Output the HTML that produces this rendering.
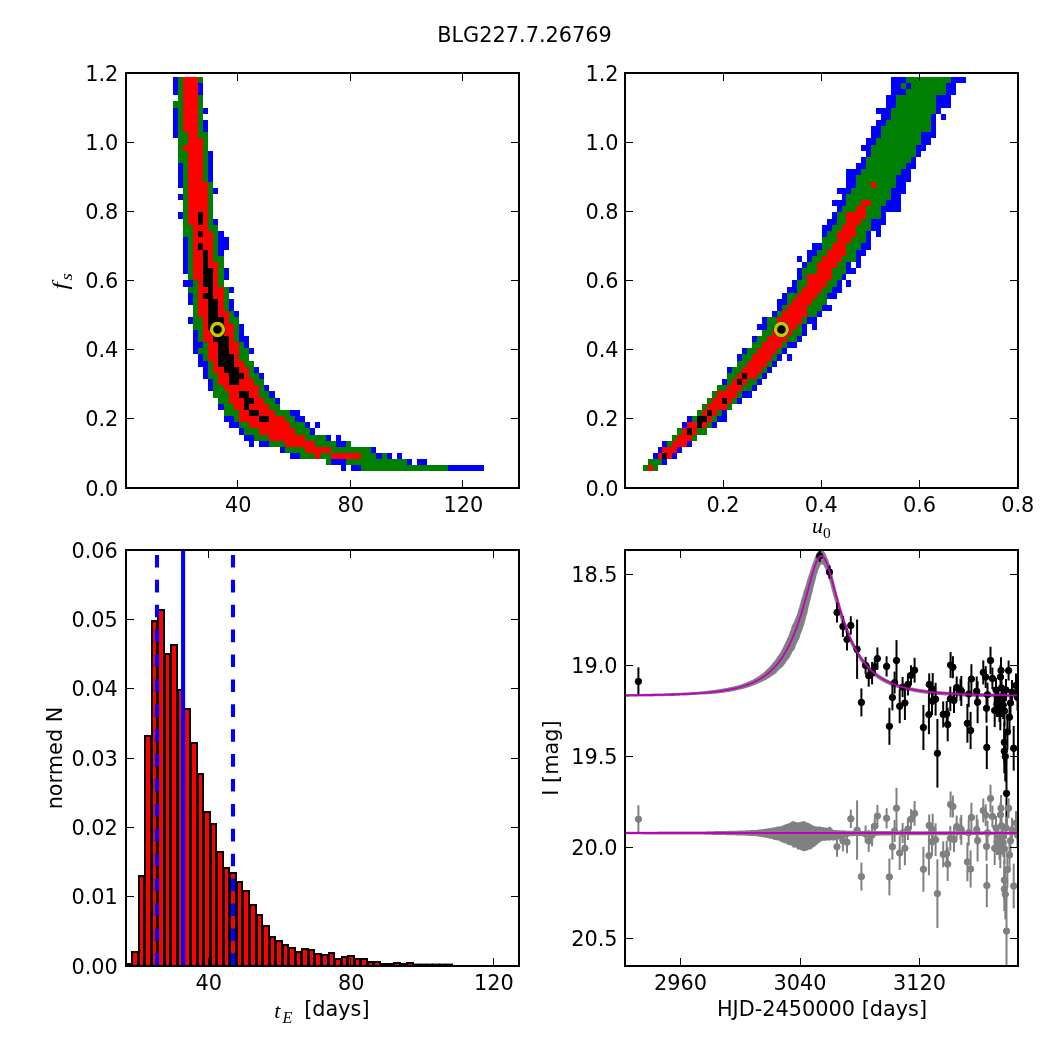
<!DOCTYPE html><html><head><meta charset="utf-8"><title>BLG227.7.26769</title><style>html,body{margin:0;padding:0;background:#fff}svg{display:block}</style></head><body><svg width="1050" height="1050" viewBox="0 0 1050 1050" font-family='"DejaVu Sans","Liberation Sans",sans-serif' font-size="20.83" fill="#000">
<rect width="1050" height="1050" fill="#fff"/>
<text x="524.5" y="41.9" text-anchor="middle">BLG227.7.26769</text>
<g shape-rendering="crispEdges">
<rect x="173" y="77" width="5" height="6" fill="#0000ff"/>
<rect x="178" y="77" width="5" height="6" fill="#008000"/>
<rect x="183" y="77" width="15" height="6" fill="#ff0000"/>
<rect x="198" y="77" width="5" height="6" fill="#008000"/>
<rect x="173" y="83" width="5" height="6" fill="#0000ff"/>
<rect x="178" y="83" width="5" height="6" fill="#008000"/>
<rect x="183" y="83" width="15" height="6" fill="#ff0000"/>
<rect x="198" y="83" width="5" height="6" fill="#0000ff"/>
<rect x="173" y="89" width="5" height="6" fill="#0000ff"/>
<rect x="178" y="89" width="5" height="6" fill="#008000"/>
<rect x="183" y="89" width="15" height="6" fill="#ff0000"/>
<rect x="198" y="89" width="5" height="6" fill="#0000ff"/>
<rect x="178" y="95" width="5" height="6" fill="#008000"/>
<rect x="183" y="95" width="15" height="6" fill="#ff0000"/>
<rect x="198" y="95" width="5" height="6" fill="#008000"/>
<rect x="173" y="101" width="10" height="7" fill="#008000"/>
<rect x="183" y="101" width="15" height="7" fill="#ff0000"/>
<rect x="198" y="101" width="5" height="7" fill="#008000"/>
<rect x="173" y="108" width="5" height="6" fill="#0000ff"/>
<rect x="178" y="108" width="5" height="6" fill="#008000"/>
<rect x="183" y="108" width="15" height="6" fill="#ff0000"/>
<rect x="198" y="108" width="5" height="6" fill="#008000"/>
<rect x="203" y="108" width="5" height="6" fill="#0000ff"/>
<rect x="173" y="114" width="5" height="6" fill="#0000ff"/>
<rect x="178" y="114" width="5" height="6" fill="#008000"/>
<rect x="183" y="114" width="15" height="6" fill="#ff0000"/>
<rect x="198" y="114" width="5" height="6" fill="#008000"/>
<rect x="173" y="120" width="5" height="6" fill="#0000ff"/>
<rect x="178" y="120" width="5" height="6" fill="#008000"/>
<rect x="183" y="120" width="15" height="6" fill="#ff0000"/>
<rect x="198" y="120" width="5" height="6" fill="#008000"/>
<rect x="203" y="120" width="5" height="6" fill="#0000ff"/>
<rect x="173" y="126" width="5" height="6" fill="#0000ff"/>
<rect x="178" y="126" width="5" height="6" fill="#008000"/>
<rect x="183" y="126" width="15" height="6" fill="#ff0000"/>
<rect x="198" y="126" width="5" height="6" fill="#008000"/>
<rect x="203" y="126" width="5" height="6" fill="#0000ff"/>
<rect x="173" y="132" width="5" height="6" fill="#0000ff"/>
<rect x="178" y="132" width="10" height="6" fill="#008000"/>
<rect x="188" y="132" width="10" height="6" fill="#ff0000"/>
<rect x="198" y="132" width="10" height="6" fill="#008000"/>
<rect x="178" y="138" width="10" height="7" fill="#008000"/>
<rect x="188" y="138" width="15" height="7" fill="#ff0000"/>
<rect x="203" y="138" width="5" height="7" fill="#008000"/>
<rect x="178" y="145" width="5" height="6" fill="#008000"/>
<rect x="183" y="145" width="20" height="6" fill="#ff0000"/>
<rect x="203" y="145" width="5" height="6" fill="#008000"/>
<rect x="178" y="151" width="10" height="6" fill="#008000"/>
<rect x="188" y="151" width="15" height="6" fill="#ff0000"/>
<rect x="203" y="151" width="5" height="6" fill="#008000"/>
<rect x="208" y="151" width="5" height="6" fill="#0000ff"/>
<rect x="178" y="157" width="10" height="6" fill="#008000"/>
<rect x="188" y="157" width="15" height="6" fill="#ff0000"/>
<rect x="203" y="157" width="5" height="6" fill="#008000"/>
<rect x="208" y="157" width="5" height="6" fill="#0000ff"/>
<rect x="178" y="163" width="5" height="6" fill="#0000ff"/>
<rect x="183" y="163" width="5" height="6" fill="#008000"/>
<rect x="188" y="163" width="15" height="6" fill="#ff0000"/>
<rect x="203" y="163" width="5" height="6" fill="#008000"/>
<rect x="208" y="163" width="5" height="6" fill="#0000ff"/>
<rect x="178" y="169" width="5" height="6" fill="#0000ff"/>
<rect x="183" y="169" width="5" height="6" fill="#008000"/>
<rect x="188" y="169" width="15" height="6" fill="#ff0000"/>
<rect x="203" y="169" width="5" height="6" fill="#008000"/>
<rect x="208" y="169" width="5" height="6" fill="#0000ff"/>
<rect x="178" y="175" width="5" height="7" fill="#0000ff"/>
<rect x="183" y="175" width="5" height="7" fill="#008000"/>
<rect x="188" y="175" width="15" height="7" fill="#ff0000"/>
<rect x="203" y="175" width="5" height="7" fill="#008000"/>
<rect x="208" y="175" width="5" height="7" fill="#0000ff"/>
<rect x="178" y="182" width="5" height="6" fill="#0000ff"/>
<rect x="183" y="182" width="5" height="6" fill="#008000"/>
<rect x="188" y="182" width="20" height="6" fill="#ff0000"/>
<rect x="208" y="182" width="5" height="6" fill="#008000"/>
<rect x="183" y="188" width="5" height="6" fill="#008000"/>
<rect x="188" y="188" width="20" height="6" fill="#ff0000"/>
<rect x="208" y="188" width="5" height="6" fill="#008000"/>
<rect x="213" y="188" width="5" height="6" fill="#0000ff"/>
<rect x="178" y="194" width="5" height="6" fill="#0000ff"/>
<rect x="183" y="194" width="5" height="6" fill="#008000"/>
<rect x="188" y="194" width="20" height="6" fill="#ff0000"/>
<rect x="208" y="194" width="5" height="6" fill="#008000"/>
<rect x="183" y="200" width="5" height="6" fill="#008000"/>
<rect x="188" y="200" width="20" height="6" fill="#ff0000"/>
<rect x="208" y="200" width="5" height="6" fill="#008000"/>
<rect x="183" y="206" width="5" height="6" fill="#008000"/>
<rect x="188" y="206" width="20" height="6" fill="#ff0000"/>
<rect x="208" y="206" width="5" height="6" fill="#008000"/>
<rect x="178" y="212" width="5" height="7" fill="#0000ff"/>
<rect x="183" y="212" width="5" height="7" fill="#008000"/>
<rect x="188" y="212" width="10" height="7" fill="#ff0000"/>
<rect x="198" y="212" width="5" height="7" fill="#000000"/>
<rect x="203" y="212" width="5" height="7" fill="#ff0000"/>
<rect x="208" y="212" width="5" height="7" fill="#008000"/>
<rect x="183" y="219" width="5" height="6" fill="#008000"/>
<rect x="188" y="219" width="10" height="6" fill="#ff0000"/>
<rect x="198" y="219" width="5" height="6" fill="#000000"/>
<rect x="203" y="219" width="5" height="6" fill="#ff0000"/>
<rect x="208" y="219" width="5" height="6" fill="#008000"/>
<rect x="213" y="219" width="5" height="6" fill="#0000ff"/>
<rect x="183" y="225" width="10" height="6" fill="#008000"/>
<rect x="193" y="225" width="15" height="6" fill="#ff0000"/>
<rect x="208" y="225" width="10" height="6" fill="#008000"/>
<rect x="183" y="231" width="10" height="6" fill="#008000"/>
<rect x="193" y="231" width="5" height="6" fill="#ff0000"/>
<rect x="198" y="231" width="5" height="6" fill="#000000"/>
<rect x="203" y="231" width="10" height="6" fill="#ff0000"/>
<rect x="213" y="231" width="5" height="6" fill="#008000"/>
<rect x="218" y="231" width="6" height="6" fill="#0000ff"/>
<rect x="183" y="237" width="5" height="6" fill="#0000ff"/>
<rect x="188" y="237" width="5" height="6" fill="#008000"/>
<rect x="193" y="237" width="20" height="6" fill="#ff0000"/>
<rect x="213" y="237" width="5" height="6" fill="#008000"/>
<rect x="218" y="237" width="11" height="6" fill="#0000ff"/>
<rect x="183" y="243" width="5" height="7" fill="#0000ff"/>
<rect x="188" y="243" width="5" height="7" fill="#008000"/>
<rect x="193" y="243" width="5" height="7" fill="#ff0000"/>
<rect x="198" y="243" width="5" height="7" fill="#000000"/>
<rect x="203" y="243" width="10" height="7" fill="#ff0000"/>
<rect x="213" y="243" width="5" height="7" fill="#008000"/>
<rect x="218" y="243" width="11" height="7" fill="#0000ff"/>
<rect x="183" y="250" width="5" height="6" fill="#0000ff"/>
<rect x="188" y="250" width="5" height="6" fill="#008000"/>
<rect x="193" y="250" width="10" height="6" fill="#ff0000"/>
<rect x="203" y="250" width="5" height="6" fill="#000000"/>
<rect x="208" y="250" width="5" height="6" fill="#ff0000"/>
<rect x="213" y="250" width="5" height="6" fill="#008000"/>
<rect x="218" y="250" width="6" height="6" fill="#0000ff"/>
<rect x="183" y="256" width="5" height="6" fill="#0000ff"/>
<rect x="188" y="256" width="5" height="6" fill="#008000"/>
<rect x="193" y="256" width="10" height="6" fill="#ff0000"/>
<rect x="203" y="256" width="5" height="6" fill="#000000"/>
<rect x="208" y="256" width="5" height="6" fill="#ff0000"/>
<rect x="213" y="256" width="11" height="6" fill="#008000"/>
<rect x="183" y="262" width="5" height="6" fill="#0000ff"/>
<rect x="188" y="262" width="5" height="6" fill="#008000"/>
<rect x="193" y="262" width="10" height="6" fill="#ff0000"/>
<rect x="203" y="262" width="5" height="6" fill="#000000"/>
<rect x="208" y="262" width="10" height="6" fill="#ff0000"/>
<rect x="218" y="262" width="6" height="6" fill="#008000"/>
<rect x="183" y="268" width="5" height="6" fill="#0000ff"/>
<rect x="188" y="268" width="5" height="6" fill="#008000"/>
<rect x="193" y="268" width="10" height="6" fill="#ff0000"/>
<rect x="203" y="268" width="10" height="6" fill="#000000"/>
<rect x="213" y="268" width="5" height="6" fill="#ff0000"/>
<rect x="218" y="268" width="6" height="6" fill="#008000"/>
<rect x="224" y="268" width="5" height="6" fill="#0000ff"/>
<rect x="188" y="274" width="5" height="6" fill="#008000"/>
<rect x="193" y="274" width="10" height="6" fill="#ff0000"/>
<rect x="203" y="274" width="10" height="6" fill="#000000"/>
<rect x="213" y="274" width="5" height="6" fill="#ff0000"/>
<rect x="218" y="274" width="6" height="6" fill="#008000"/>
<rect x="224" y="274" width="5" height="6" fill="#0000ff"/>
<rect x="183" y="280" width="10" height="7" fill="#0000ff"/>
<rect x="193" y="280" width="5" height="7" fill="#008000"/>
<rect x="198" y="280" width="5" height="7" fill="#ff0000"/>
<rect x="203" y="280" width="10" height="7" fill="#000000"/>
<rect x="213" y="280" width="5" height="7" fill="#ff0000"/>
<rect x="218" y="280" width="6" height="7" fill="#008000"/>
<rect x="188" y="287" width="10" height="6" fill="#008000"/>
<rect x="198" y="287" width="10" height="6" fill="#ff0000"/>
<rect x="208" y="287" width="5" height="6" fill="#000000"/>
<rect x="213" y="287" width="11" height="6" fill="#ff0000"/>
<rect x="224" y="287" width="5" height="6" fill="#008000"/>
<rect x="229" y="287" width="5" height="6" fill="#0000ff"/>
<rect x="188" y="293" width="5" height="6" fill="#0000ff"/>
<rect x="193" y="293" width="5" height="6" fill="#008000"/>
<rect x="198" y="293" width="5" height="6" fill="#ff0000"/>
<rect x="203" y="293" width="10" height="6" fill="#000000"/>
<rect x="213" y="293" width="11" height="6" fill="#ff0000"/>
<rect x="224" y="293" width="5" height="6" fill="#008000"/>
<rect x="188" y="299" width="5" height="6" fill="#0000ff"/>
<rect x="193" y="299" width="5" height="6" fill="#008000"/>
<rect x="198" y="299" width="10" height="6" fill="#ff0000"/>
<rect x="208" y="299" width="10" height="6" fill="#000000"/>
<rect x="218" y="299" width="6" height="6" fill="#ff0000"/>
<rect x="224" y="299" width="5" height="6" fill="#008000"/>
<rect x="229" y="299" width="5" height="6" fill="#0000ff"/>
<rect x="193" y="305" width="5" height="6" fill="#008000"/>
<rect x="198" y="305" width="10" height="6" fill="#ff0000"/>
<rect x="208" y="305" width="10" height="6" fill="#000000"/>
<rect x="218" y="305" width="6" height="6" fill="#ff0000"/>
<rect x="224" y="305" width="5" height="6" fill="#008000"/>
<rect x="229" y="305" width="5" height="6" fill="#0000ff"/>
<rect x="193" y="311" width="5" height="6" fill="#008000"/>
<rect x="198" y="311" width="10" height="6" fill="#ff0000"/>
<rect x="208" y="311" width="10" height="6" fill="#000000"/>
<rect x="218" y="311" width="11" height="6" fill="#ff0000"/>
<rect x="229" y="311" width="5" height="6" fill="#008000"/>
<rect x="234" y="311" width="5" height="6" fill="#0000ff"/>
<rect x="188" y="317" width="5" height="7" fill="#0000ff"/>
<rect x="193" y="317" width="10" height="7" fill="#008000"/>
<rect x="203" y="317" width="5" height="7" fill="#ff0000"/>
<rect x="208" y="317" width="16" height="7" fill="#000000"/>
<rect x="224" y="317" width="5" height="7" fill="#ff0000"/>
<rect x="229" y="317" width="10" height="7" fill="#008000"/>
<rect x="193" y="324" width="10" height="6" fill="#008000"/>
<rect x="203" y="324" width="5" height="6" fill="#ff0000"/>
<rect x="208" y="324" width="16" height="6" fill="#000000"/>
<rect x="224" y="324" width="10" height="6" fill="#ff0000"/>
<rect x="234" y="324" width="5" height="6" fill="#008000"/>
<rect x="239" y="324" width="5" height="6" fill="#0000ff"/>
<rect x="193" y="330" width="5" height="6" fill="#0000ff"/>
<rect x="198" y="330" width="5" height="6" fill="#008000"/>
<rect x="203" y="330" width="10" height="6" fill="#ff0000"/>
<rect x="213" y="330" width="11" height="6" fill="#000000"/>
<rect x="224" y="330" width="10" height="6" fill="#ff0000"/>
<rect x="234" y="330" width="5" height="6" fill="#008000"/>
<rect x="239" y="330" width="5" height="6" fill="#0000ff"/>
<rect x="193" y="336" width="5" height="6" fill="#0000ff"/>
<rect x="198" y="336" width="5" height="6" fill="#008000"/>
<rect x="203" y="336" width="10" height="6" fill="#ff0000"/>
<rect x="213" y="336" width="16" height="6" fill="#000000"/>
<rect x="229" y="336" width="5" height="6" fill="#ff0000"/>
<rect x="234" y="336" width="5" height="6" fill="#008000"/>
<rect x="239" y="336" width="10" height="6" fill="#0000ff"/>
<rect x="193" y="342" width="10" height="6" fill="#0000ff"/>
<rect x="203" y="342" width="5" height="6" fill="#008000"/>
<rect x="208" y="342" width="10" height="6" fill="#ff0000"/>
<rect x="218" y="342" width="11" height="6" fill="#000000"/>
<rect x="229" y="342" width="10" height="6" fill="#ff0000"/>
<rect x="239" y="342" width="5" height="6" fill="#008000"/>
<rect x="244" y="342" width="5" height="6" fill="#0000ff"/>
<rect x="193" y="348" width="5" height="6" fill="#0000ff"/>
<rect x="198" y="348" width="10" height="6" fill="#008000"/>
<rect x="208" y="348" width="10" height="6" fill="#ff0000"/>
<rect x="218" y="348" width="11" height="6" fill="#000000"/>
<rect x="229" y="348" width="10" height="6" fill="#ff0000"/>
<rect x="239" y="348" width="10" height="6" fill="#008000"/>
<rect x="249" y="348" width="5" height="6" fill="#0000ff"/>
<rect x="198" y="354" width="5" height="7" fill="#0000ff"/>
<rect x="203" y="354" width="5" height="7" fill="#008000"/>
<rect x="208" y="354" width="10" height="7" fill="#ff0000"/>
<rect x="218" y="354" width="16" height="7" fill="#000000"/>
<rect x="234" y="354" width="5" height="7" fill="#ff0000"/>
<rect x="239" y="354" width="10" height="7" fill="#008000"/>
<rect x="198" y="361" width="10" height="6" fill="#0000ff"/>
<rect x="208" y="361" width="5" height="6" fill="#008000"/>
<rect x="213" y="361" width="5" height="6" fill="#ff0000"/>
<rect x="218" y="361" width="16" height="6" fill="#000000"/>
<rect x="234" y="361" width="10" height="6" fill="#ff0000"/>
<rect x="244" y="361" width="10" height="6" fill="#008000"/>
<rect x="203" y="367" width="5" height="6" fill="#0000ff"/>
<rect x="208" y="367" width="5" height="6" fill="#008000"/>
<rect x="213" y="367" width="11" height="6" fill="#ff0000"/>
<rect x="224" y="367" width="15" height="6" fill="#000000"/>
<rect x="239" y="367" width="10" height="6" fill="#ff0000"/>
<rect x="249" y="367" width="5" height="6" fill="#008000"/>
<rect x="254" y="367" width="5" height="6" fill="#0000ff"/>
<rect x="203" y="373" width="5" height="6" fill="#0000ff"/>
<rect x="208" y="373" width="10" height="6" fill="#008000"/>
<rect x="218" y="373" width="11" height="6" fill="#ff0000"/>
<rect x="229" y="373" width="15" height="6" fill="#000000"/>
<rect x="244" y="373" width="5" height="6" fill="#ff0000"/>
<rect x="249" y="373" width="10" height="6" fill="#008000"/>
<rect x="259" y="373" width="5" height="6" fill="#0000ff"/>
<rect x="208" y="379" width="5" height="6" fill="#0000ff"/>
<rect x="213" y="379" width="5" height="6" fill="#008000"/>
<rect x="218" y="379" width="11" height="6" fill="#ff0000"/>
<rect x="229" y="379" width="10" height="6" fill="#000000"/>
<rect x="239" y="379" width="15" height="6" fill="#ff0000"/>
<rect x="254" y="379" width="10" height="6" fill="#008000"/>
<rect x="208" y="385" width="5" height="6" fill="#0000ff"/>
<rect x="213" y="385" width="11" height="6" fill="#008000"/>
<rect x="224" y="385" width="35" height="6" fill="#ff0000"/>
<rect x="259" y="385" width="5" height="6" fill="#008000"/>
<rect x="264" y="385" width="5" height="6" fill="#0000ff"/>
<rect x="213" y="391" width="16" height="7" fill="#008000"/>
<rect x="229" y="391" width="10" height="7" fill="#ff0000"/>
<rect x="239" y="391" width="10" height="7" fill="#000000"/>
<rect x="249" y="391" width="10" height="7" fill="#ff0000"/>
<rect x="259" y="391" width="10" height="7" fill="#008000"/>
<rect x="269" y="391" width="6" height="7" fill="#0000ff"/>
<rect x="218" y="398" width="11" height="6" fill="#008000"/>
<rect x="229" y="398" width="15" height="6" fill="#ff0000"/>
<rect x="244" y="398" width="10" height="6" fill="#000000"/>
<rect x="254" y="398" width="10" height="6" fill="#ff0000"/>
<rect x="264" y="398" width="11" height="6" fill="#008000"/>
<rect x="275" y="398" width="5" height="6" fill="#0000ff"/>
<rect x="218" y="404" width="6" height="6" fill="#0000ff"/>
<rect x="224" y="404" width="10" height="6" fill="#008000"/>
<rect x="234" y="404" width="10" height="6" fill="#ff0000"/>
<rect x="244" y="404" width="5" height="6" fill="#000000"/>
<rect x="249" y="404" width="20" height="6" fill="#ff0000"/>
<rect x="269" y="404" width="11" height="6" fill="#008000"/>
<rect x="224" y="410" width="15" height="6" fill="#008000"/>
<rect x="239" y="410" width="10" height="6" fill="#ff0000"/>
<rect x="249" y="410" width="10" height="6" fill="#000000"/>
<rect x="259" y="410" width="16" height="6" fill="#ff0000"/>
<rect x="275" y="410" width="15" height="6" fill="#008000"/>
<rect x="290" y="410" width="10" height="6" fill="#0000ff"/>
<rect x="224" y="416" width="10" height="6" fill="#0000ff"/>
<rect x="234" y="416" width="5" height="6" fill="#008000"/>
<rect x="239" y="416" width="20" height="6" fill="#ff0000"/>
<rect x="259" y="416" width="10" height="6" fill="#000000"/>
<rect x="269" y="416" width="16" height="6" fill="#ff0000"/>
<rect x="285" y="416" width="10" height="6" fill="#008000"/>
<rect x="295" y="416" width="10" height="6" fill="#0000ff"/>
<rect x="229" y="422" width="10" height="6" fill="#0000ff"/>
<rect x="239" y="422" width="10" height="6" fill="#008000"/>
<rect x="249" y="422" width="41" height="6" fill="#ff0000"/>
<rect x="290" y="422" width="15" height="6" fill="#008000"/>
<rect x="305" y="422" width="5" height="6" fill="#0000ff"/>
<rect x="315" y="422" width="5" height="6" fill="#0000ff"/>
<rect x="239" y="428" width="5" height="7" fill="#0000ff"/>
<rect x="244" y="428" width="15" height="7" fill="#008000"/>
<rect x="259" y="428" width="36" height="7" fill="#ff0000"/>
<rect x="295" y="428" width="15" height="7" fill="#008000"/>
<rect x="310" y="428" width="5" height="7" fill="#0000ff"/>
<rect x="244" y="435" width="10" height="6" fill="#0000ff"/>
<rect x="254" y="435" width="15" height="6" fill="#008000"/>
<rect x="269" y="435" width="36" height="6" fill="#ff0000"/>
<rect x="305" y="435" width="21" height="6" fill="#008000"/>
<rect x="326" y="435" width="5" height="6" fill="#0000ff"/>
<rect x="336" y="435" width="5" height="6" fill="#0000ff"/>
<rect x="249" y="441" width="5" height="6" fill="#0000ff"/>
<rect x="259" y="441" width="10" height="6" fill="#0000ff"/>
<rect x="269" y="441" width="16" height="6" fill="#008000"/>
<rect x="285" y="441" width="30" height="6" fill="#ff0000"/>
<rect x="315" y="441" width="21" height="6" fill="#008000"/>
<rect x="336" y="441" width="10" height="6" fill="#0000ff"/>
<rect x="346" y="441" width="5" height="6" fill="#008000"/>
<rect x="280" y="447" width="5" height="6" fill="#0000ff"/>
<rect x="285" y="447" width="20" height="6" fill="#008000"/>
<rect x="305" y="447" width="26" height="6" fill="#ff0000"/>
<rect x="331" y="447" width="40" height="6" fill="#008000"/>
<rect x="371" y="447" width="5" height="6" fill="#0000ff"/>
<rect x="290" y="453" width="10" height="6" fill="#0000ff"/>
<rect x="300" y="453" width="15" height="6" fill="#008000"/>
<rect x="315" y="453" width="5" height="6" fill="#ff0000"/>
<rect x="320" y="453" width="11" height="6" fill="#008000"/>
<rect x="331" y="453" width="30" height="6" fill="#ff0000"/>
<rect x="361" y="453" width="15" height="6" fill="#008000"/>
<rect x="376" y="453" width="6" height="6" fill="#0000ff"/>
<rect x="382" y="453" width="5" height="6" fill="#008000"/>
<rect x="387" y="453" width="5" height="6" fill="#0000ff"/>
<rect x="397" y="453" width="5" height="6" fill="#0000ff"/>
<rect x="326" y="459" width="5" height="6" fill="#008000"/>
<rect x="331" y="459" width="15" height="6" fill="#0000ff"/>
<rect x="346" y="459" width="61" height="6" fill="#008000"/>
<rect x="407" y="459" width="5" height="6" fill="#0000ff"/>
<rect x="417" y="459" width="10" height="6" fill="#0000ff"/>
<rect x="341" y="465" width="5" height="6" fill="#0000ff"/>
<rect x="351" y="465" width="10" height="6" fill="#0000ff"/>
<rect x="361" y="465" width="87" height="6" fill="#008000"/>
<rect x="448" y="465" width="36" height="6" fill="#0000ff"/>
</g>
<circle cx="217.5" cy="329.5" r="8.1" fill="#000" opacity="0.85"/><circle cx="217.5" cy="329.5" r="6" fill="#000" stroke="#c6c600" stroke-width="3.3"/>
<path d="M237.5 488v-8.3M237.5 73v8.3M350.0 488v-8.3M350.0 73v8.3M462.5 488v-8.3M462.5 73v8.3M126 488.0h8.3M519 488.0h-8.3M126 418.8h8.3M519 418.8h-8.3M126 349.7h8.3M519 349.7h-8.3M126 280.5h8.3M519 280.5h-8.3M126 211.3h8.3M519 211.3h-8.3M126 142.2h8.3M519 142.2h-8.3M126 73.0h8.3M519 73.0h-8.3" stroke="#000" stroke-width="1" fill="none" shape-rendering="crispEdges"/>
<rect x="126" y="73" width="393" height="415" fill="none" stroke="#000" stroke-width="2"/>
<text x="238.3" y="512.0" text-anchor="middle">40</text>
<text x="350.8" y="512.0" text-anchor="middle">80</text>
<text x="463.3" y="512.0" text-anchor="middle">120</text>
<text x="118.3" y="495.6" text-anchor="end">0.0</text>
<text x="118.3" y="426.4" text-anchor="end">0.2</text>
<text x="118.3" y="357.3" text-anchor="end">0.4</text>
<text x="118.3" y="288.1" text-anchor="end">0.6</text>
<text x="118.3" y="218.9" text-anchor="end">0.8</text>
<text x="118.3" y="149.8" text-anchor="end">1.0</text>
<text x="118.3" y="80.6" text-anchor="end">1.2</text>
<text transform="translate(67.3,289.4) rotate(-90) scale(1.18,1)" font-family='"Liberation Serif","DejaVu Serif",serif' font-style="italic" font-size="21.5">f<tspan font-size="16" dy="4.5" dx="1.6">s</tspan></text>
<g shape-rendering="crispEdges">
<rect x="891" y="77" width="15" height="6" fill="#0000ff"/>
<rect x="906" y="77" width="45" height="6" fill="#008000"/>
<rect x="951" y="77" width="15" height="6" fill="#0000ff"/>
<rect x="891" y="83" width="10" height="6" fill="#0000ff"/>
<rect x="901" y="83" width="5" height="6" fill="#008000"/>
<rect x="906" y="83" width="5" height="6" fill="#0000ff"/>
<rect x="911" y="83" width="35" height="6" fill="#008000"/>
<rect x="946" y="83" width="10" height="6" fill="#0000ff"/>
<rect x="891" y="89" width="15" height="6" fill="#0000ff"/>
<rect x="906" y="89" width="40" height="6" fill="#008000"/>
<rect x="946" y="89" width="10" height="6" fill="#0000ff"/>
<rect x="886" y="95" width="10" height="6" fill="#0000ff"/>
<rect x="896" y="95" width="40" height="6" fill="#008000"/>
<rect x="936" y="95" width="15" height="6" fill="#0000ff"/>
<rect x="886" y="101" width="10" height="7" fill="#0000ff"/>
<rect x="896" y="101" width="40" height="7" fill="#008000"/>
<rect x="936" y="101" width="15" height="7" fill="#0000ff"/>
<rect x="876" y="108" width="15" height="6" fill="#0000ff"/>
<rect x="891" y="108" width="45" height="6" fill="#008000"/>
<rect x="936" y="108" width="5" height="6" fill="#0000ff"/>
<rect x="881" y="114" width="10" height="6" fill="#0000ff"/>
<rect x="891" y="114" width="40" height="6" fill="#008000"/>
<rect x="931" y="114" width="5" height="6" fill="#0000ff"/>
<rect x="941" y="114" width="5" height="6" fill="#0000ff"/>
<rect x="876" y="120" width="10" height="6" fill="#0000ff"/>
<rect x="886" y="120" width="45" height="6" fill="#008000"/>
<rect x="931" y="120" width="5" height="6" fill="#0000ff"/>
<rect x="871" y="126" width="10" height="6" fill="#0000ff"/>
<rect x="881" y="126" width="50" height="6" fill="#008000"/>
<rect x="931" y="126" width="5" height="6" fill="#0000ff"/>
<rect x="871" y="132" width="10" height="6" fill="#0000ff"/>
<rect x="881" y="132" width="40" height="6" fill="#008000"/>
<rect x="921" y="132" width="15" height="6" fill="#0000ff"/>
<rect x="866" y="138" width="10" height="7" fill="#0000ff"/>
<rect x="876" y="138" width="45" height="7" fill="#008000"/>
<rect x="921" y="138" width="10" height="7" fill="#0000ff"/>
<rect x="861" y="145" width="10" height="6" fill="#0000ff"/>
<rect x="871" y="145" width="45" height="6" fill="#008000"/>
<rect x="916" y="145" width="10" height="6" fill="#0000ff"/>
<rect x="866" y="151" width="5" height="6" fill="#0000ff"/>
<rect x="871" y="151" width="45" height="6" fill="#008000"/>
<rect x="916" y="151" width="5" height="6" fill="#0000ff"/>
<rect x="861" y="157" width="5" height="6" fill="#0000ff"/>
<rect x="866" y="157" width="45" height="6" fill="#008000"/>
<rect x="911" y="157" width="5" height="6" fill="#0000ff"/>
<rect x="856" y="163" width="10" height="6" fill="#0000ff"/>
<rect x="866" y="163" width="40" height="6" fill="#008000"/>
<rect x="906" y="163" width="10" height="6" fill="#0000ff"/>
<rect x="846" y="169" width="15" height="6" fill="#0000ff"/>
<rect x="861" y="169" width="40" height="6" fill="#008000"/>
<rect x="901" y="169" width="10" height="6" fill="#0000ff"/>
<rect x="846" y="175" width="10" height="7" fill="#0000ff"/>
<rect x="856" y="175" width="40" height="7" fill="#008000"/>
<rect x="896" y="175" width="15" height="7" fill="#0000ff"/>
<rect x="846" y="182" width="10" height="6" fill="#0000ff"/>
<rect x="856" y="182" width="15" height="6" fill="#008000"/>
<rect x="871" y="182" width="5" height="6" fill="#ff0000"/>
<rect x="876" y="182" width="20" height="6" fill="#008000"/>
<rect x="896" y="182" width="10" height="6" fill="#0000ff"/>
<rect x="837" y="188" width="14" height="6" fill="#0000ff"/>
<rect x="851" y="188" width="40" height="6" fill="#008000"/>
<rect x="891" y="188" width="15" height="6" fill="#0000ff"/>
<rect x="842" y="194" width="4" height="6" fill="#0000ff"/>
<rect x="846" y="194" width="45" height="6" fill="#008000"/>
<rect x="891" y="194" width="10" height="6" fill="#0000ff"/>
<rect x="832" y="200" width="14" height="6" fill="#0000ff"/>
<rect x="846" y="200" width="15" height="6" fill="#008000"/>
<rect x="861" y="200" width="10" height="6" fill="#ff0000"/>
<rect x="871" y="200" width="15" height="6" fill="#008000"/>
<rect x="886" y="200" width="15" height="6" fill="#0000ff"/>
<rect x="837" y="206" width="5" height="6" fill="#0000ff"/>
<rect x="842" y="206" width="14" height="6" fill="#008000"/>
<rect x="856" y="206" width="10" height="6" fill="#ff0000"/>
<rect x="866" y="206" width="15" height="6" fill="#008000"/>
<rect x="881" y="206" width="20" height="6" fill="#0000ff"/>
<rect x="832" y="212" width="5" height="7" fill="#0000ff"/>
<rect x="837" y="212" width="9" height="7" fill="#008000"/>
<rect x="846" y="212" width="20" height="7" fill="#ff0000"/>
<rect x="866" y="212" width="15" height="7" fill="#008000"/>
<rect x="881" y="212" width="5" height="7" fill="#0000ff"/>
<rect x="827" y="219" width="10" height="6" fill="#0000ff"/>
<rect x="837" y="219" width="9" height="6" fill="#008000"/>
<rect x="846" y="219" width="15" height="6" fill="#ff0000"/>
<rect x="861" y="219" width="10" height="6" fill="#008000"/>
<rect x="871" y="219" width="15" height="6" fill="#0000ff"/>
<rect x="822" y="225" width="10" height="6" fill="#0000ff"/>
<rect x="832" y="225" width="10" height="6" fill="#008000"/>
<rect x="842" y="225" width="14" height="6" fill="#ff0000"/>
<rect x="856" y="225" width="15" height="6" fill="#008000"/>
<rect x="871" y="225" width="10" height="6" fill="#0000ff"/>
<rect x="822" y="231" width="5" height="6" fill="#0000ff"/>
<rect x="827" y="231" width="10" height="6" fill="#008000"/>
<rect x="837" y="231" width="19" height="6" fill="#ff0000"/>
<rect x="856" y="231" width="10" height="6" fill="#008000"/>
<rect x="866" y="231" width="5" height="6" fill="#0000ff"/>
<rect x="876" y="231" width="5" height="6" fill="#0000ff"/>
<rect x="822" y="237" width="15" height="6" fill="#008000"/>
<rect x="837" y="237" width="14" height="6" fill="#ff0000"/>
<rect x="851" y="237" width="15" height="6" fill="#008000"/>
<rect x="866" y="237" width="5" height="6" fill="#0000ff"/>
<rect x="812" y="243" width="10" height="7" fill="#0000ff"/>
<rect x="822" y="243" width="10" height="7" fill="#008000"/>
<rect x="832" y="243" width="14" height="7" fill="#ff0000"/>
<rect x="846" y="243" width="15" height="7" fill="#008000"/>
<rect x="861" y="243" width="10" height="7" fill="#0000ff"/>
<rect x="807" y="250" width="10" height="6" fill="#0000ff"/>
<rect x="817" y="250" width="10" height="6" fill="#008000"/>
<rect x="827" y="250" width="19" height="6" fill="#ff0000"/>
<rect x="846" y="250" width="10" height="6" fill="#008000"/>
<rect x="856" y="250" width="10" height="6" fill="#0000ff"/>
<rect x="797" y="256" width="5" height="6" fill="#0000ff"/>
<rect x="807" y="256" width="5" height="6" fill="#0000ff"/>
<rect x="812" y="256" width="10" height="6" fill="#008000"/>
<rect x="822" y="256" width="20" height="6" fill="#ff0000"/>
<rect x="842" y="256" width="14" height="6" fill="#008000"/>
<rect x="856" y="256" width="5" height="6" fill="#0000ff"/>
<rect x="802" y="262" width="5" height="6" fill="#0000ff"/>
<rect x="807" y="262" width="10" height="6" fill="#008000"/>
<rect x="817" y="262" width="20" height="6" fill="#ff0000"/>
<rect x="837" y="262" width="9" height="6" fill="#008000"/>
<rect x="846" y="262" width="5" height="6" fill="#0000ff"/>
<rect x="856" y="262" width="5" height="6" fill="#0000ff"/>
<rect x="797" y="268" width="5" height="6" fill="#0000ff"/>
<rect x="802" y="268" width="15" height="6" fill="#008000"/>
<rect x="817" y="268" width="15" height="6" fill="#ff0000"/>
<rect x="832" y="268" width="14" height="6" fill="#008000"/>
<rect x="846" y="268" width="10" height="6" fill="#0000ff"/>
<rect x="797" y="274" width="5" height="6" fill="#0000ff"/>
<rect x="802" y="274" width="5" height="6" fill="#008000"/>
<rect x="807" y="274" width="25" height="6" fill="#ff0000"/>
<rect x="832" y="274" width="10" height="6" fill="#008000"/>
<rect x="842" y="274" width="4" height="6" fill="#0000ff"/>
<rect x="792" y="280" width="5" height="7" fill="#0000ff"/>
<rect x="797" y="280" width="10" height="7" fill="#008000"/>
<rect x="807" y="280" width="20" height="7" fill="#ff0000"/>
<rect x="827" y="280" width="10" height="7" fill="#008000"/>
<rect x="837" y="280" width="5" height="7" fill="#0000ff"/>
<rect x="846" y="280" width="5" height="7" fill="#0000ff"/>
<rect x="787" y="287" width="10" height="6" fill="#0000ff"/>
<rect x="797" y="287" width="5" height="6" fill="#008000"/>
<rect x="802" y="287" width="20" height="6" fill="#ff0000"/>
<rect x="822" y="287" width="10" height="6" fill="#008000"/>
<rect x="832" y="287" width="10" height="6" fill="#0000ff"/>
<rect x="782" y="293" width="5" height="6" fill="#0000ff"/>
<rect x="787" y="293" width="10" height="6" fill="#008000"/>
<rect x="797" y="293" width="20" height="6" fill="#ff0000"/>
<rect x="817" y="293" width="10" height="6" fill="#008000"/>
<rect x="827" y="293" width="10" height="6" fill="#0000ff"/>
<rect x="777" y="299" width="10" height="6" fill="#0000ff"/>
<rect x="787" y="299" width="5" height="6" fill="#008000"/>
<rect x="792" y="299" width="20" height="6" fill="#ff0000"/>
<rect x="812" y="299" width="15" height="6" fill="#008000"/>
<rect x="777" y="305" width="5" height="6" fill="#0000ff"/>
<rect x="782" y="305" width="5" height="6" fill="#008000"/>
<rect x="787" y="305" width="20" height="6" fill="#ff0000"/>
<rect x="807" y="305" width="15" height="6" fill="#008000"/>
<rect x="822" y="305" width="10" height="6" fill="#0000ff"/>
<rect x="772" y="311" width="5" height="6" fill="#0000ff"/>
<rect x="777" y="311" width="5" height="6" fill="#008000"/>
<rect x="782" y="311" width="25" height="6" fill="#ff0000"/>
<rect x="807" y="311" width="10" height="6" fill="#008000"/>
<rect x="817" y="311" width="5" height="6" fill="#0000ff"/>
<rect x="762" y="317" width="5" height="7" fill="#0000ff"/>
<rect x="767" y="317" width="10" height="7" fill="#008000"/>
<rect x="777" y="317" width="25" height="7" fill="#ff0000"/>
<rect x="802" y="317" width="5" height="7" fill="#008000"/>
<rect x="807" y="317" width="10" height="7" fill="#0000ff"/>
<rect x="757" y="324" width="10" height="6" fill="#0000ff"/>
<rect x="767" y="324" width="10" height="6" fill="#008000"/>
<rect x="777" y="324" width="20" height="6" fill="#ff0000"/>
<rect x="797" y="324" width="5" height="6" fill="#008000"/>
<rect x="802" y="324" width="5" height="6" fill="#0000ff"/>
<rect x="812" y="324" width="5" height="6" fill="#0000ff"/>
<rect x="762" y="330" width="10" height="6" fill="#008000"/>
<rect x="772" y="330" width="20" height="6" fill="#ff0000"/>
<rect x="792" y="330" width="10" height="6" fill="#008000"/>
<rect x="802" y="330" width="5" height="6" fill="#0000ff"/>
<rect x="752" y="336" width="5" height="6" fill="#0000ff"/>
<rect x="757" y="336" width="10" height="6" fill="#008000"/>
<rect x="767" y="336" width="20" height="6" fill="#ff0000"/>
<rect x="787" y="336" width="10" height="6" fill="#008000"/>
<rect x="797" y="336" width="5" height="6" fill="#0000ff"/>
<rect x="752" y="342" width="10" height="6" fill="#008000"/>
<rect x="762" y="342" width="20" height="6" fill="#ff0000"/>
<rect x="782" y="342" width="5" height="6" fill="#008000"/>
<rect x="787" y="342" width="10" height="6" fill="#0000ff"/>
<rect x="742" y="348" width="5" height="6" fill="#0000ff"/>
<rect x="747" y="348" width="10" height="6" fill="#008000"/>
<rect x="757" y="348" width="20" height="6" fill="#ff0000"/>
<rect x="777" y="348" width="5" height="6" fill="#008000"/>
<rect x="782" y="348" width="5" height="6" fill="#0000ff"/>
<rect x="737" y="354" width="5" height="7" fill="#0000ff"/>
<rect x="742" y="354" width="10" height="7" fill="#008000"/>
<rect x="752" y="354" width="20" height="7" fill="#ff0000"/>
<rect x="772" y="354" width="5" height="7" fill="#008000"/>
<rect x="777" y="354" width="5" height="7" fill="#0000ff"/>
<rect x="787" y="354" width="5" height="7" fill="#0000ff"/>
<rect x="737" y="361" width="10" height="6" fill="#008000"/>
<rect x="747" y="361" width="20" height="6" fill="#ff0000"/>
<rect x="767" y="361" width="5" height="6" fill="#008000"/>
<rect x="772" y="361" width="5" height="6" fill="#0000ff"/>
<rect x="727" y="367" width="5" height="6" fill="#0000ff"/>
<rect x="732" y="367" width="10" height="6" fill="#008000"/>
<rect x="742" y="367" width="20" height="6" fill="#ff0000"/>
<rect x="762" y="367" width="5" height="6" fill="#008000"/>
<rect x="767" y="367" width="5" height="6" fill="#0000ff"/>
<rect x="727" y="373" width="10" height="6" fill="#008000"/>
<rect x="737" y="373" width="5" height="6" fill="#ff0000"/>
<rect x="742" y="373" width="5" height="6" fill="#000000"/>
<rect x="747" y="373" width="10" height="6" fill="#ff0000"/>
<rect x="757" y="373" width="5" height="6" fill="#008000"/>
<rect x="762" y="373" width="5" height="6" fill="#0000ff"/>
<rect x="722" y="379" width="5" height="6" fill="#0000ff"/>
<rect x="727" y="379" width="5" height="6" fill="#008000"/>
<rect x="732" y="379" width="5" height="6" fill="#ff0000"/>
<rect x="737" y="379" width="5" height="6" fill="#000000"/>
<rect x="742" y="379" width="5" height="6" fill="#ff0000"/>
<rect x="747" y="379" width="10" height="6" fill="#008000"/>
<rect x="757" y="379" width="5" height="6" fill="#0000ff"/>
<rect x="717" y="385" width="10" height="6" fill="#008000"/>
<rect x="727" y="385" width="15" height="6" fill="#ff0000"/>
<rect x="742" y="385" width="10" height="6" fill="#008000"/>
<rect x="752" y="385" width="5" height="6" fill="#0000ff"/>
<rect x="712" y="391" width="5" height="7" fill="#008000"/>
<rect x="717" y="391" width="20" height="7" fill="#ff0000"/>
<rect x="737" y="391" width="5" height="7" fill="#008000"/>
<rect x="742" y="391" width="10" height="7" fill="#0000ff"/>
<rect x="707" y="398" width="5" height="6" fill="#008000"/>
<rect x="712" y="398" width="10" height="6" fill="#ff0000"/>
<rect x="722" y="398" width="5" height="6" fill="#000000"/>
<rect x="727" y="398" width="5" height="6" fill="#ff0000"/>
<rect x="732" y="398" width="5" height="6" fill="#008000"/>
<rect x="737" y="398" width="5" height="6" fill="#0000ff"/>
<rect x="702" y="404" width="5" height="6" fill="#008000"/>
<rect x="707" y="404" width="20" height="6" fill="#ff0000"/>
<rect x="727" y="404" width="5" height="6" fill="#008000"/>
<rect x="697" y="410" width="5" height="6" fill="#008000"/>
<rect x="702" y="410" width="5" height="6" fill="#ff0000"/>
<rect x="707" y="410" width="5" height="6" fill="#000000"/>
<rect x="712" y="410" width="5" height="6" fill="#ff0000"/>
<rect x="717" y="410" width="5" height="6" fill="#008000"/>
<rect x="722" y="410" width="5" height="6" fill="#0000ff"/>
<rect x="687" y="416" width="5" height="6" fill="#0000ff"/>
<rect x="692" y="416" width="5" height="6" fill="#008000"/>
<rect x="697" y="416" width="10" height="6" fill="#000000"/>
<rect x="707" y="416" width="5" height="6" fill="#ff0000"/>
<rect x="712" y="416" width="5" height="6" fill="#008000"/>
<rect x="717" y="416" width="10" height="6" fill="#0000ff"/>
<rect x="682" y="422" width="5" height="6" fill="#0000ff"/>
<rect x="687" y="422" width="10" height="6" fill="#ff0000"/>
<rect x="697" y="422" width="5" height="6" fill="#000000"/>
<rect x="702" y="422" width="5" height="6" fill="#ff0000"/>
<rect x="707" y="422" width="5" height="6" fill="#008000"/>
<rect x="712" y="422" width="5" height="6" fill="#0000ff"/>
<rect x="677" y="428" width="5" height="7" fill="#008000"/>
<rect x="682" y="428" width="5" height="7" fill="#ff0000"/>
<rect x="687" y="428" width="5" height="7" fill="#000000"/>
<rect x="692" y="428" width="5" height="7" fill="#ff0000"/>
<rect x="697" y="428" width="10" height="7" fill="#008000"/>
<rect x="672" y="435" width="5" height="6" fill="#008000"/>
<rect x="677" y="435" width="15" height="6" fill="#ff0000"/>
<rect x="692" y="435" width="5" height="6" fill="#008000"/>
<rect x="662" y="441" width="5" height="6" fill="#0000ff"/>
<rect x="667" y="441" width="5" height="6" fill="#008000"/>
<rect x="672" y="441" width="15" height="6" fill="#ff0000"/>
<rect x="687" y="441" width="5" height="6" fill="#0000ff"/>
<rect x="658" y="447" width="4" height="6" fill="#0000ff"/>
<rect x="662" y="447" width="15" height="6" fill="#ff0000"/>
<rect x="677" y="447" width="5" height="6" fill="#0000ff"/>
<rect x="653" y="453" width="5" height="6" fill="#0000ff"/>
<rect x="658" y="453" width="4" height="6" fill="#ff0000"/>
<rect x="662" y="453" width="5" height="6" fill="#000000"/>
<rect x="667" y="453" width="5" height="6" fill="#ff0000"/>
<rect x="672" y="453" width="5" height="6" fill="#0000ff"/>
<rect x="648" y="459" width="14" height="6" fill="#008000"/>
<rect x="662" y="459" width="5" height="6" fill="#0000ff"/>
<rect x="643" y="465" width="5" height="6" fill="#008000"/>
<rect x="648" y="465" width="5" height="6" fill="#ff0000"/>
<rect x="653" y="465" width="5" height="6" fill="#008000"/>
</g>
<circle cx="781.4" cy="329.5" r="8.1" fill="#000" opacity="0.85"/><circle cx="781.4" cy="329.5" r="6" fill="#000" stroke="#c6c600" stroke-width="3.3"/>
<path d="M723.2 488v-8.3M723.2 73v8.3M821.5 488v-8.3M821.5 73v8.3M919.8 488v-8.3M919.8 73v8.3M1018.0 488v-8.3M1018.0 73v8.3M625 488.0h8.3M1018 488.0h-8.3M625 418.8h8.3M1018 418.8h-8.3M625 349.7h8.3M1018 349.7h-8.3M625 280.5h8.3M1018 280.5h-8.3M625 211.3h8.3M1018 211.3h-8.3M625 142.2h8.3M1018 142.2h-8.3M625 73.0h8.3M1018 73.0h-8.3" stroke="#000" stroke-width="1" fill="none" shape-rendering="crispEdges"/>
<rect x="625" y="73" width="393" height="415" fill="none" stroke="#000" stroke-width="2"/>
<text x="723.0" y="512.0" text-anchor="middle">0.2</text>
<text x="821.2" y="512.0" text-anchor="middle">0.4</text>
<text x="919.5" y="512.0" text-anchor="middle">0.6</text>
<text x="1017.7" y="512.0" text-anchor="middle">0.8</text>
<text x="618.6" y="495.6" text-anchor="end">0.0</text>
<text x="618.6" y="426.4" text-anchor="end">0.2</text>
<text x="618.6" y="357.3" text-anchor="end">0.4</text>
<text x="618.6" y="288.1" text-anchor="end">0.6</text>
<text x="618.6" y="218.9" text-anchor="end">0.8</text>
<text x="618.6" y="149.8" text-anchor="end">1.0</text>
<text x="618.6" y="80.6" text-anchor="end">1.2</text>
<text x="812" y="533.2" font-family='"Liberation Serif","DejaVu Serif",serif' font-style="italic" font-size="22">u<tspan font-size="15.5" dy="4.8" font-style="normal">0</tspan></text>
<g fill="#ff0000" stroke="#000" stroke-width="2">
<rect x="126" y="964" width="5" height="2.0"/>
<rect x="132" y="952" width="6" height="14.0"/>
<rect x="139" y="876" width="5" height="90.0"/>
<rect x="145" y="736" width="6" height="230.0"/>
<rect x="152" y="621" width="5" height="345.0"/>
<rect x="158" y="610" width="6" height="356.0"/>
<rect x="165" y="654" width="5" height="312.0"/>
<rect x="171" y="645" width="6" height="321.0"/>
<rect x="178" y="690" width="5" height="276.0"/>
<rect x="184" y="709" width="6" height="257.0"/>
<rect x="191" y="743" width="6" height="223.0"/>
<rect x="198" y="774" width="5" height="192.0"/>
<rect x="204" y="812" width="6" height="154.0"/>
<rect x="211" y="824" width="5" height="142.0"/>
<rect x="217" y="852" width="6" height="114.0"/>
<rect x="224" y="868" width="5" height="98.0"/>
<rect x="230" y="873" width="6" height="93.0"/>
<rect x="237" y="882" width="5" height="84.0"/>
<rect x="243" y="891" width="6" height="75.0"/>
<rect x="250" y="905" width="6" height="61.0"/>
<rect x="257" y="915" width="5" height="51.0"/>
<rect x="263" y="926" width="6" height="40.0"/>
<rect x="270" y="937" width="5" height="29.0"/>
<rect x="276" y="941" width="6" height="25.0"/>
<rect x="283" y="945" width="5" height="21.0"/>
<rect x="289" y="948" width="6" height="18.0"/>
<rect x="296" y="952" width="5" height="14.0"/>
<rect x="302" y="949" width="6" height="17.0"/>
<rect x="309" y="950" width="5" height="16.0"/>
<rect x="315" y="954" width="6" height="12.0"/>
<rect x="322" y="955" width="6" height="11.0"/>
<rect x="329" y="953" width="5" height="13.0"/>
<rect x="335" y="959" width="6" height="7.0"/>
<rect x="342" y="957" width="5" height="9.0"/>
<rect x="348" y="956" width="6" height="10.0"/>
<rect x="355" y="959" width="5" height="7.0"/>
<rect x="361" y="959" width="6" height="7.0"/>
<rect x="368" y="962" width="5" height="4.0"/>
<rect x="374" y="962" width="6" height="4.0"/>
<rect x="381" y="964" width="6" height="2.0"/>
<rect x="388" y="964" width="5" height="2.0"/>
<rect x="394" y="963" width="6" height="3.0"/>
<rect x="401" y="964" width="5" height="2.0"/>
<rect x="407" y="963" width="6" height="3.0"/>
<rect x="414" y="964.6" width="5" height="1.4"/>
<rect x="420" y="964.6" width="6" height="1.4"/>
<rect x="427" y="964.6" width="5" height="1.4"/>
<rect x="433" y="964.6" width="6" height="1.4"/>
<rect x="440" y="964.6" width="5" height="1.4"/>
<rect x="446" y="964.6" width="6" height="1.4"/>
<rect x="453" y="966" width="6" height="0.0"/>
<rect x="460" y="966" width="5" height="0.0"/>
<rect x="466" y="966" width="6" height="0.0"/>
<rect x="473" y="966" width="5" height="0.0"/>
<rect x="479" y="966" width="6" height="0.0"/>
<rect x="486" y="966" width="5" height="0.0"/>
<rect x="492" y="966" width="6" height="0.0"/>
<rect x="499" y="966" width="5" height="0.0"/>
<rect x="505" y="966" width="6" height="0.0"/>
<rect x="512" y="966" width="6" height="0.0"/>
</g>
<g stroke="#0000ff" stroke-width="4.1" fill="none">
<path d="M157 965.9V550" stroke-dasharray="12.6 12.3"/>
<path d="M233 965.9V550" stroke-dasharray="12.6 12.3"/>
<path d="M183.1 966V550"/>
</g>
<path d="M208.0 966v-8.3M208.0 550v8.3M350.5 966v-8.3M350.5 550v8.3M493.0 966v-8.3M493.0 550v8.3M126 966.0h8.3M519 966.0h-8.3M126 896.7h8.3M519 896.7h-8.3M126 827.3h8.3M519 827.3h-8.3M126 758.0h8.3M519 758.0h-8.3M126 688.7h8.3M519 688.7h-8.3M126 619.3h8.3M519 619.3h-8.3M126 550.0h8.3M519 550.0h-8.3" stroke="#000" stroke-width="1" fill="none" shape-rendering="crispEdges"/>
<rect x="126" y="550" width="393" height="416" fill="none" stroke="#000" stroke-width="2"/>
<text x="208.8" y="990.0" text-anchor="middle">40</text>
<text x="351.3" y="990.0" text-anchor="middle">80</text>
<text x="493.8" y="990.0" text-anchor="middle">120</text>
<text x="117.8" y="973.6" text-anchor="end">0.00</text>
<text x="117.8" y="904.3" text-anchor="end">0.01</text>
<text x="117.8" y="834.9" text-anchor="end">0.02</text>
<text x="117.8" y="765.6" text-anchor="end">0.03</text>
<text x="117.8" y="696.3" text-anchor="end">0.04</text>
<text x="117.8" y="626.9" text-anchor="end">0.05</text>
<text x="117.8" y="557.6" text-anchor="end">0.06</text>
<text transform="translate(62,758) rotate(-90)" text-anchor="middle">normed N</text>
<text x="274.3" y="1018" font-family='"Liberation Serif","DejaVu Serif",serif' font-style="italic" font-size="22">t</text><text x="282.4" y="1023" font-family='"Liberation Serif","DejaVu Serif",serif' font-style="italic" font-size="16.3">E</text><text x="304.2" y="1016">[days]</text>
<clipPath id="c4"><rect x="625" y="550" width="393" height="416"/></clipPath>
<g clip-path="url(#c4)">
<polygon points="620.6,695.2 621.3,695.2 622.1,695.2 622.8,695.2 623.6,695.1 624.3,695.1 625.1,695.1 625.8,695.1 626.6,695.1 627.3,695.1 628.1,695.1 628.8,695.1 629.6,695.1 630.3,695.1 631.1,695.0 631.8,695.0 632.6,695.0 633.3,695.0 634.1,695.0 634.8,695.0 635.5,695.0 636.3,695.0 637.0,695.0 637.8,694.9 638.5,694.9 639.3,694.9 640.0,694.9 640.8,694.9 641.5,694.9 642.3,694.9 643.0,694.8 643.8,694.8 644.5,694.8 645.3,694.8 646.0,694.8 646.8,694.8 647.5,694.8 648.3,694.7 649.0,694.7 649.8,694.7 650.5,694.7 651.2,694.7 652.0,694.7 652.7,694.6 653.5,694.6 654.2,694.6 655.0,694.6 655.7,694.6 656.5,694.6 657.2,694.5 658.0,694.5 658.7,694.5 659.5,694.5 660.2,694.5 661.0,694.4 661.7,694.4 662.5,694.4 663.2,694.4 664.0,694.4 664.7,694.3 665.4,694.3 666.2,694.3 666.9,694.3 667.7,694.2 668.4,694.2 669.2,694.2 669.9,694.2 670.7,694.1 671.4,694.1 672.2,694.1 672.9,694.1 673.7,694.0 674.4,694.0 675.2,694.0 675.9,694.0 676.7,693.9 677.4,693.9 678.2,693.9 678.9,693.8 679.7,693.8 680.4,693.8 681.1,693.7 681.9,693.7 682.6,693.7 683.4,693.6 684.1,693.6 684.9,693.6 685.6,693.5 686.4,693.5 687.1,693.4 687.9,693.4 688.6,693.4 689.4,693.3 690.1,693.3 690.9,693.2 691.6,693.2 692.4,693.1 693.1,693.1 693.9,693.1 694.6,693.0 695.4,693.0 696.1,692.9 696.8,692.9 697.6,692.8 698.3,692.8 699.1,692.7 699.8,692.6 700.6,692.6 701.3,692.5 702.1,692.4 702.8,692.3 703.6,692.3 704.3,692.2 705.1,692.1 705.8,692.0 706.6,691.9 707.3,691.8 708.1,691.8 708.8,691.7 709.6,691.6 710.3,691.5 711.0,691.4 711.8,691.3 712.5,691.2 713.3,691.1 714.0,691.0 714.8,690.9 715.5,690.8 716.3,690.7 717.0,690.5 717.8,690.4 718.5,690.3 719.3,690.2 720.0,690.1 720.8,690.0 721.5,689.8 722.3,689.7 723.0,689.6 723.8,689.5 724.5,689.3 725.2,689.2 726.0,689.1 726.7,688.9 727.5,688.8 728.2,688.6 729.0,688.5 729.7,688.3 730.5,688.2 731.2,688.0 732.0,687.8 732.7,687.7 733.5,687.5 734.2,687.3 735.0,687.1 735.7,686.9 736.5,686.7 737.2,686.5 738.0,686.3 738.7,686.1 739.5,685.9 740.2,685.7 740.9,685.5 741.7,685.2 742.4,684.9 743.2,684.7 743.9,684.4 744.7,684.1 745.4,683.8 746.2,683.6 746.9,683.3 747.7,683.0 748.4,682.6 749.2,682.3 749.9,682.0 750.7,681.7 751.4,681.3 752.2,680.9 752.9,680.6 753.7,680.2 754.4,679.8 755.1,679.4 755.9,679.0 756.6,678.6 757.4,678.1 758.1,677.7 758.9,677.1 759.6,676.6 760.4,676.1 761.1,675.6 761.9,675.0 762.6,674.4 763.4,673.8 764.1,673.3 764.9,672.6 765.6,672.2 766.4,671.4 767.1,670.4 767.9,669.8 768.6,669.1 769.4,668.4 770.1,667.6 770.8,666.7 771.6,665.8 772.3,665.2 773.1,664.0 773.8,663.2 774.6,662.3 775.3,661.5 776.1,660.5 776.8,659.2 777.6,658.6 778.3,657.0 779.1,656.2 779.8,655.1 780.6,654.1 781.3,652.7 782.1,651.4 782.8,649.9 783.6,648.6 784.3,646.9 785.0,645.4 785.8,644.0 786.5,642.2 787.3,641.1 788.0,638.8 788.8,637.9 789.5,635.8 790.3,634.0 791.0,631.4 791.8,629.6 792.5,627.3 793.3,625.2 794.0,624.0 794.8,622.5 795.5,620.3 796.3,619.0 797.0,616.7 797.8,615.5 798.5,613.0 799.3,609.9 800.0,608.0 800.7,605.2 801.5,602.8 802.2,599.7 803.0,597.7 803.7,595.2 804.5,591.7 805.2,589.9 806.0,587.6 806.7,585.5 807.5,582.4 808.2,580.1 809.0,577.6 809.7,575.2 810.5,573.5 811.2,570.6 812.0,568.6 812.7,566.2 813.5,564.2 814.2,562.2 815.0,560.1 815.7,557.8 816.4,556.2 817.2,554.9 817.9,553.3 818.7,552.6 819.4,551.5 820.2,551.2 820.9,550.7 821.7,550.8 822.4,551.5 823.2,551.9 823.9,553.2 824.7,554.3 825.4,555.7 826.2,557.8 826.9,559.4 827.7,561.6 828.4,563.9 829.2,565.4 829.9,567.5 830.6,570.9 831.4,574.3 832.1,577.9 832.9,581.3 833.6,584.2 834.4,587.0 835.1,589.9 835.9,592.7 836.6,595.5 837.4,598.3 838.1,601.0 838.9,603.7 839.6,606.3 840.4,608.9 841.1,611.4 841.9,613.8 842.6,616.2 843.4,618.5 844.1,620.8 844.9,623.0 845.6,625.1 846.3,627.2 847.1,629.3 847.8,631.2 848.6,633.1 849.3,635.0 850.1,636.8 850.8,638.5 851.6,640.1 852.3,641.8 853.1,643.3 853.8,644.8 854.6,646.3 855.3,647.7 856.1,649.1 856.8,650.4 857.6,651.7 858.3,653.0 859.1,654.2 859.8,655.3 860.5,656.5 861.3,657.6 862.0,658.6 862.8,659.7 863.5,660.7 864.3,661.6 865.0,662.6 865.8,663.5 866.5,664.4 867.3,665.2 868.0,666.1 868.8,666.9 869.5,667.6 870.3,668.4 871.0,669.1 871.8,669.8 872.5,670.5 873.3,671.2 874.0,671.8 874.8,672.4 875.5,673.0 876.2,673.6 877.0,674.2 877.7,674.8 878.5,675.3 879.2,675.8 880.0,676.3 880.7,676.8 881.5,677.3 882.2,677.8 883.0,678.2 883.7,678.6 884.5,679.1 885.2,679.5 886.0,679.9 886.7,680.3 887.5,680.6 888.2,681.0 889.0,681.4 889.7,681.7 890.4,682.0 891.2,682.4 891.9,682.7 892.7,683.0 893.4,683.3 894.2,683.6 894.9,683.9 895.7,684.1 896.4,684.4 897.2,684.7 897.9,684.9 898.7,685.2 899.4,685.4 900.2,685.7 900.9,685.9 901.7,686.1 902.4,686.3 903.2,686.5 903.9,686.7 904.6,686.9 905.4,687.1 906.1,687.3 906.9,687.5 907.6,687.6 908.4,687.8 909.1,688.0 909.9,688.1 910.6,688.3 911.4,688.5 912.1,688.6 912.9,688.7 913.6,688.9 914.4,689.0 915.1,689.2 915.9,689.3 916.6,689.4 917.4,689.5 918.1,689.7 918.9,689.8 919.6,689.9 920.3,690.0 921.1,690.1 921.8,690.2 922.6,690.3 923.3,690.4 924.1,690.5 924.8,690.6 925.6,690.7 926.3,690.8 927.1,690.9 927.8,691.0 928.6,691.1 929.3,691.2 930.1,691.3 930.8,691.3 931.6,691.4 932.3,691.5 933.1,691.6 933.8,691.6 934.5,691.7 935.3,691.8 936.0,691.9 936.8,691.9 937.5,692.0 938.3,692.1 939.0,692.1 939.8,692.2 940.5,692.2 941.3,692.3 942.0,692.4 942.8,692.4 943.5,692.5 944.3,692.5 945.0,692.6 945.8,692.6 946.5,692.7 947.3,692.7 948.0,692.8 948.8,692.8 949.5,692.9 950.2,692.9 951.0,692.9 951.7,693.0 952.5,693.0 953.2,693.1 954.0,693.1 954.7,693.1 955.5,693.2 956.2,693.2 957.0,693.3 957.7,693.3 958.5,693.3 959.2,693.4 960.0,693.4 960.7,693.4 961.5,693.5 962.2,693.5 963.0,693.5 963.7,693.6 964.5,693.6 965.2,693.6 965.9,693.7 966.7,693.7 967.4,693.7 968.2,693.7 968.9,693.8 969.7,693.8 970.4,693.8 971.2,693.8 971.9,693.9 972.7,693.9 973.4,693.9 974.2,693.9 974.9,694.0 975.7,694.0 976.4,694.0 977.2,694.0 977.9,694.0 978.7,694.1 979.4,694.1 980.1,694.1 980.9,694.1 981.6,694.1 982.4,694.2 983.1,694.2 983.9,694.2 984.6,694.2 985.4,694.2 986.1,694.3 986.9,694.3 987.6,694.3 988.4,694.3 989.1,694.3 989.9,694.3 990.6,694.4 991.4,694.4 992.1,694.4 992.9,694.4 993.6,694.4 994.4,694.4 995.1,694.4 995.8,694.5 996.6,694.5 997.3,694.5 998.1,694.5 998.8,694.5 999.6,694.5 1000.3,694.5 1001.1,694.6 1001.8,694.6 1002.6,694.6 1003.3,694.6 1004.1,694.6 1004.8,694.6 1005.6,694.6 1006.3,694.6 1007.1,694.6 1007.8,694.7 1008.6,694.7 1009.3,694.7 1010.0,694.7 1010.8,694.7 1011.5,694.7 1012.3,694.7 1013.0,694.7 1013.8,694.7 1014.5,694.7 1015.3,694.8 1016.0,694.8 1016.8,694.8 1017.5,694.8 1018.3,694.8 1019.0,694.8 1019.8,694.8 1020.5,694.8 1021.3,694.8 1022.0,694.8 1022.8,694.8 1023.5,694.9 1023.5,696.5 1022.8,696.5 1022.0,696.5 1021.3,696.5 1020.5,696.4 1019.8,696.4 1019.0,696.4 1018.3,696.4 1017.5,696.4 1016.8,696.4 1016.0,696.4 1015.3,696.4 1014.5,696.4 1013.8,696.4 1013.0,696.4 1012.3,696.4 1011.5,696.4 1010.8,696.4 1010.0,696.4 1009.3,696.3 1008.6,696.3 1007.8,696.3 1007.1,696.3 1006.3,696.3 1005.6,696.3 1004.8,696.3 1004.1,696.3 1003.3,696.3 1002.6,696.3 1001.8,696.3 1001.1,696.2 1000.3,696.2 999.6,696.2 998.8,696.2 998.1,696.2 997.3,696.2 996.6,696.2 995.8,696.2 995.1,696.2 994.4,696.1 993.6,696.1 992.9,696.1 992.1,696.1 991.4,696.1 990.6,696.1 989.9,696.1 989.1,696.1 988.4,696.0 987.6,696.0 986.9,696.0 986.1,696.0 985.4,696.0 984.6,696.0 983.9,695.9 983.1,695.9 982.4,695.9 981.6,695.9 980.9,695.9 980.1,695.9 979.4,695.8 978.7,695.8 977.9,695.8 977.2,695.8 976.4,695.8 975.7,695.8 974.9,695.7 974.2,695.7 973.4,695.7 972.7,695.7 971.9,695.6 971.2,695.6 970.4,695.6 969.7,695.6 968.9,695.6 968.2,695.5 967.4,695.5 966.7,695.5 965.9,695.4 965.2,695.4 964.5,695.4 963.7,695.4 963.0,695.3 962.2,695.3 961.5,695.3 960.7,695.3 960.0,695.2 959.2,695.2 958.5,695.2 957.7,695.1 957.0,695.1 956.2,695.1 955.5,695.0 954.7,695.0 954.0,694.9 953.2,694.9 952.5,694.9 951.7,694.8 951.0,694.8 950.2,694.7 949.5,694.7 948.8,694.7 948.0,694.6 947.3,694.6 946.5,694.5 945.8,694.5 945.0,694.4 944.3,694.4 943.5,694.3 942.8,694.3 942.0,694.2 941.3,694.2 940.5,694.1 939.8,694.1 939.0,694.0 938.3,693.9 937.5,693.9 936.8,693.8 936.0,693.7 935.3,693.7 934.5,693.6 933.8,693.5 933.1,693.5 932.3,693.4 931.6,693.3 930.8,693.2 930.1,693.2 929.3,693.1 928.6,693.0 927.8,692.9 927.1,692.8 926.3,692.7 925.6,692.7 924.8,692.6 924.1,692.5 923.3,692.4 922.6,692.3 921.8,692.2 921.1,692.1 920.3,692.0 919.6,691.8 918.9,691.7 918.1,691.6 917.4,691.5 916.6,691.4 915.9,691.2 915.1,691.1 914.4,691.0 913.6,690.8 912.9,690.7 912.1,690.6 911.4,690.4 910.6,690.3 909.9,690.1 909.1,690.0 908.4,689.8 907.6,689.6 906.9,689.4 906.1,689.3 905.4,689.1 904.6,688.9 903.9,688.7 903.2,688.5 902.4,688.3 901.7,688.1 900.9,687.9 900.2,687.7 899.4,687.4 898.7,687.2 897.9,687.0 897.2,686.8 896.4,686.5 895.7,686.3 894.9,686.0 894.2,685.8 893.4,685.5 892.7,685.2 891.9,684.9 891.2,684.6 890.4,684.3 889.7,684.0 889.0,683.7 888.2,683.3 887.5,683.0 886.7,682.6 886.0,682.3 885.2,681.9 884.5,681.5 883.7,681.1 883.0,680.7 882.2,680.3 881.5,679.8 880.7,679.4 880.0,678.9 879.2,678.4 878.5,677.9 877.7,677.4 877.0,676.8 876.2,676.3 875.5,675.7 874.8,675.1 874.0,674.5 873.3,673.9 872.5,673.3 871.8,672.6 871.0,671.9 870.3,671.2 869.5,670.5 868.8,669.7 868.0,668.9 867.3,668.1 866.5,667.3 865.8,666.5 865.0,665.6 864.3,664.6 863.5,663.7 862.8,662.7 862.0,661.7 861.3,660.7 860.5,659.6 859.8,658.5 859.1,657.3 858.3,656.1 857.6,654.9 856.8,653.6 856.1,652.3 855.3,651.0 854.6,649.6 853.8,648.1 853.1,646.6 852.3,645.1 851.6,643.5 850.8,641.9 850.1,640.2 849.3,638.6 848.6,637.0 847.8,635.3 847.1,633.8 846.3,631.6 845.6,630.1 844.9,628.0 844.1,626.2 843.4,623.9 842.6,621.9 841.9,619.8 841.1,617.6 840.4,615.4 839.6,613.2 838.9,610.9 838.1,608.4 837.4,605.6 836.6,603.5 835.9,601.0 835.1,597.9 834.4,595.6 833.6,592.8 832.9,590.2 832.1,586.8 831.4,584.2 830.6,581.8 829.9,579.3 829.2,576.7 828.4,574.4 827.7,572.2 826.9,570.4 826.2,568.2 825.4,567.1 824.7,565.3 823.9,564.1 823.2,563.6 822.4,563.3 821.7,562.8 820.9,563.5 820.2,564.2 819.4,565.0 818.7,566.7 817.9,568.1 817.2,570.1 816.4,573.1 815.7,574.6 815.0,577.8 814.2,581.0 813.5,583.4 812.7,586.2 812.0,589.4 811.2,593.3 810.5,594.8 809.7,599.1 809.0,601.6 808.2,604.9 807.5,607.2 806.7,611.4 806.0,614.2 805.2,616.0 804.5,619.9 803.7,622.1 803.0,625.2 802.2,626.9 801.5,629.3 800.7,631.3 800.0,633.2 799.3,634.9 798.5,637.9 797.8,639.6 797.0,640.2 796.3,642.4 795.5,643.5 794.8,645.2 794.0,648.2 793.3,649.6 792.5,650.0 791.8,650.9 791.0,652.2 790.3,654.4 789.5,654.9 788.8,656.9 788.0,658.3 787.3,658.3 786.5,660.0 785.8,660.7 785.0,662.0 784.3,663.4 783.6,663.4 782.8,665.1 782.1,665.8 781.3,666.6 780.6,667.1 779.8,667.7 779.1,668.5 778.3,669.3 777.6,669.9 776.8,670.5 776.1,671.8 775.3,672.3 774.6,673.0 773.8,673.6 773.1,673.9 772.3,674.2 771.6,675.1 770.8,675.3 770.1,676.2 769.4,676.7 768.6,676.8 767.9,677.4 767.1,677.9 766.4,678.2 765.6,678.9 764.9,679.0 764.1,679.7 763.4,680.0 762.6,680.3 761.9,680.8 761.1,681.1 760.4,681.4 759.6,681.8 758.9,682.1 758.1,682.4 757.4,682.7 756.6,683.0 755.9,683.3 755.1,683.7 754.4,684.0 753.7,684.3 752.9,684.6 752.2,684.9 751.4,685.2 750.7,685.5 749.9,685.7 749.2,686.0 748.4,686.2 747.7,686.5 746.9,686.7 746.2,686.9 745.4,687.2 744.7,687.4 743.9,687.6 743.2,687.8 742.4,688.0 741.7,688.2 740.9,688.3 740.2,688.5 739.5,688.7 738.7,688.9 738.0,689.1 737.2,689.2 736.5,689.4 735.7,689.6 735.0,689.7 734.2,689.9 733.5,690.0 732.7,690.2 732.0,690.3 731.2,690.5 730.5,690.6 729.7,690.7 729.0,690.9 728.2,691.0 727.5,691.1 726.7,691.2 726.0,691.3 725.2,691.4 724.5,691.5 723.8,691.7 723.0,691.8 722.3,691.8 721.5,691.9 720.8,692.0 720.0,692.1 719.3,692.2 718.5,692.3 717.8,692.4 717.0,692.4 716.3,692.5 715.5,692.6 714.8,692.7 714.0,692.7 713.3,692.8 712.5,692.8 711.8,692.9 711.0,693.0 710.3,693.0 709.6,693.1 708.8,693.1 708.1,693.2 707.3,693.2 706.6,693.3 705.8,693.3 705.1,693.4 704.3,693.4 703.6,693.4 702.8,693.5 702.1,693.5 701.3,693.6 700.6,693.6 699.8,693.6 699.1,693.7 698.3,693.7 697.6,693.8 696.8,693.8 696.1,693.9 695.4,693.9 694.6,694.0 693.9,694.0 693.1,694.1 692.4,694.1 691.6,694.1 690.9,694.2 690.1,694.2 689.4,694.3 688.6,694.3 687.9,694.3 687.1,694.4 686.4,694.4 685.6,694.4 684.9,694.5 684.1,694.5 683.4,694.5 682.6,694.6 681.9,694.6 681.1,694.6 680.4,694.6 679.7,694.7 678.9,694.7 678.2,694.7 677.4,694.8 676.7,694.8 675.9,694.8 675.2,694.8 674.4,694.9 673.7,694.9 672.9,694.9 672.2,694.9 671.4,694.9 670.7,695.0 669.9,695.0 669.2,695.0 668.4,695.0 667.7,695.0 666.9,695.1 666.2,695.1 665.4,695.1 664.7,695.1 664.0,695.1 663.2,695.2 662.5,695.2 661.7,695.2 661.0,695.2 660.2,695.2 659.5,695.2 658.7,695.3 658.0,695.3 657.2,695.3 656.5,695.3 655.7,695.3 655.0,695.3 654.2,695.3 653.5,695.4 652.7,695.4 652.0,695.4 651.2,695.4 650.5,695.4 649.8,695.4 649.0,695.4 648.3,695.4 647.5,695.4 646.8,695.5 646.0,695.5 645.3,695.5 644.5,695.5 643.8,695.5 643.0,695.5 642.3,695.5 641.5,695.5 640.8,695.5 640.0,695.5 639.3,695.5 638.5,695.6 637.8,695.6 637.0,695.6 636.3,695.6 635.5,695.6 634.8,695.6 634.1,695.6 633.3,695.6 632.6,695.6 631.8,695.6 631.1,695.6 630.3,695.6 629.6,695.6 628.8,695.7 628.1,695.7 627.3,695.7 626.6,695.7 625.8,695.7 625.1,695.7 624.3,695.7 623.6,695.7 622.8,695.7 622.1,695.7 621.3,695.7 620.6,695.7" fill="#808080" stroke="#808080" stroke-width="2" stroke-linejoin="round"/>
<g stroke="#000" stroke-width="2" fill="#000">
<path d="M638.4 667.4V695.4"/><circle cx="638.4" cy="681.4" r="3.2" stroke-width="1"/>
<path d="M819.7 550.0V562.0"/><circle cx="819.7" cy="556.0" r="3.2" stroke-width="1"/>
<path d="M829.5 565.6V578.6"/><circle cx="829.5" cy="572.1" r="3.2" stroke-width="1"/>
<path d="M837.0 602.4V622.4"/><circle cx="837.0" cy="612.4" r="3.2" stroke-width="1"/>
<path d="M842.9 616.0V637.0"/><circle cx="842.9" cy="626.5" r="3.2" stroke-width="1"/>
<path d="M850.8 616.2V634.6"/><circle cx="850.8" cy="625.4" r="3.2" stroke-width="1"/>
<path d="M847.0 628.5V650.5"/><circle cx="847.0" cy="639.5" r="3.2" stroke-width="1"/>
<path d="M857.1 619.5V678.9"/><circle cx="857.1" cy="649.2" r="3.2" stroke-width="1"/>
<path d="M861.4 688.4V716.4"/><circle cx="861.4" cy="702.4" r="3.2" stroke-width="1"/>
<path d="M865.6 656.9V673.9"/><circle cx="865.6" cy="665.4" r="3.2" stroke-width="1"/>
<path d="M868.7 664.7V686.7"/><circle cx="868.7" cy="675.7" r="3.2" stroke-width="1"/>
<path d="M872.1 662.0V684.4"/><circle cx="872.1" cy="673.2" r="3.2" stroke-width="1"/>
<path d="M874.8 658.6V674.6"/><circle cx="874.8" cy="666.6" r="3.2" stroke-width="1"/>
<path d="M877.4 647.4V669.8"/><circle cx="877.4" cy="658.6" r="3.2" stroke-width="1"/>
<path d="M886.6 656.3V676.5"/><circle cx="886.6" cy="666.4" r="3.2" stroke-width="1"/>
<path d="M896.5 640.1V680.9"/><circle cx="896.5" cy="660.5" r="3.2" stroke-width="1"/>
<path d="M894.6 671.6V693.6"/><circle cx="894.6" cy="682.6" r="3.2" stroke-width="1"/>
<path d="M892.4 684.4V710.4"/><circle cx="892.4" cy="697.4" r="3.2" stroke-width="1"/>
<path d="M889.4 707.8V744.8"/><circle cx="889.4" cy="726.3" r="3.2" stroke-width="1"/>
<path d="M899.7 689.3V723.3"/><circle cx="899.7" cy="706.3" r="3.2" stroke-width="1"/>
<path d="M904.9 686.0V720.0"/><circle cx="904.9" cy="703.0" r="3.2" stroke-width="1"/>
<path d="M902.6 677.1V697.1"/><circle cx="902.6" cy="687.1" r="3.2" stroke-width="1"/>
<path d="M907.9 673.5V695.5"/><circle cx="907.9" cy="684.5" r="3.2" stroke-width="1"/>
<path d="M911.0 665.3V685.3"/><circle cx="911.0" cy="675.3" r="3.2" stroke-width="1"/>
<path d="M914.6 657.8V682.6"/><circle cx="914.6" cy="670.2" r="3.2" stroke-width="1"/>
<path d="M923.4 705.0V750.0"/><circle cx="923.4" cy="727.5" r="3.2" stroke-width="1"/>
<path d="M928.9 695.0V734.2"/><circle cx="928.9" cy="714.6" r="3.2" stroke-width="1"/>
<path d="M929.2 673.4V695.4"/><circle cx="929.2" cy="684.4" r="3.2" stroke-width="1"/>
<path d="M932.7 673.1V705.1"/><circle cx="932.7" cy="689.1" r="3.2" stroke-width="1"/>
<path d="M935.6 682.8V715.6"/><circle cx="935.6" cy="699.2" r="3.2" stroke-width="1"/>
<path d="M932.0 687.0V715.0"/><circle cx="932.0" cy="701.0" r="3.2" stroke-width="1"/>
<path d="M937.4 719.0V787.6"/><circle cx="937.4" cy="753.3" r="3.2" stroke-width="1"/>
<path d="M943.2 701.4V727.4"/><circle cx="943.2" cy="714.4" r="3.2" stroke-width="1"/>
<path d="M946.7 701.0V727.0"/><circle cx="946.7" cy="714.0" r="3.2" stroke-width="1"/>
<path d="M947.7 707.7V741.3"/><circle cx="947.7" cy="724.5" r="3.2" stroke-width="1"/>
<path d="M950.3 686.6V711.2"/><circle cx="950.3" cy="698.9" r="3.2" stroke-width="1"/>
<path d="M954.0 687.9V712.9"/><circle cx="954.0" cy="700.4" r="3.2" stroke-width="1"/>
<path d="M950.6 652.1V677.9"/><circle cx="950.6" cy="665.0" r="3.2" stroke-width="1"/>
<path d="M952.9 656.2V678.2"/><circle cx="952.9" cy="667.2" r="3.2" stroke-width="1"/>
<path d="M956.7 676.5V698.5"/><circle cx="956.7" cy="687.5" r="3.2" stroke-width="1"/>
<path d="M960.5 678.8V700.8"/><circle cx="960.5" cy="689.8" r="3.2" stroke-width="1"/>
<path d="M961.3 676.0V706.0"/><circle cx="961.3" cy="691.0" r="3.2" stroke-width="1"/>
<path d="M967.4 703.9V742.7"/><circle cx="967.4" cy="723.3" r="3.2" stroke-width="1"/>
<path d="M970.6 711.9V749.1"/><circle cx="970.6" cy="730.5" r="3.2" stroke-width="1"/>
<path d="M968.7 681.1V707.1"/><circle cx="968.7" cy="694.1" r="3.2" stroke-width="1"/>
<path d="M971.4 664.2V693.8"/><circle cx="971.4" cy="679.0" r="3.2" stroke-width="1"/>
<path d="M976.7 676.5V705.9"/><circle cx="976.7" cy="691.2" r="3.2" stroke-width="1"/>
<path d="M977.6 681.2V723.2"/><circle cx="977.6" cy="702.2" r="3.2" stroke-width="1"/>
<path d="M983.3 660.4V684.4"/><circle cx="983.3" cy="672.4" r="3.2" stroke-width="1"/>
<path d="M985.7 666.1V688.1"/><circle cx="985.7" cy="677.1" r="3.2" stroke-width="1"/>
<path d="M986.5 693.9V722.7"/><circle cx="986.5" cy="708.3" r="3.2" stroke-width="1"/>
<path d="M986.8 725.7V769.1"/><circle cx="986.8" cy="747.4" r="3.2" stroke-width="1"/>
<path d="M987.5 682.7V706.7"/><circle cx="987.5" cy="694.7" r="3.2" stroke-width="1"/>
<path d="M990.5 646.7V674.3"/><circle cx="990.5" cy="660.5" r="3.2" stroke-width="1"/>
<path d="M992.4 667.6V689.2"/><circle cx="992.4" cy="678.4" r="3.2" stroke-width="1"/>
<path d="M994.7 693.7V727.1"/><circle cx="994.7" cy="710.4" r="3.2" stroke-width="1"/>
<path d="M997.0 691.1V717.1"/><circle cx="997.0" cy="704.1" r="3.2" stroke-width="1"/>
<path d="M1000.3 697.1V730.3"/><circle cx="1000.3" cy="713.7" r="3.2" stroke-width="1"/>
<path d="M1001.0 657.2V683.8"/><circle cx="1001.0" cy="670.5" r="3.2" stroke-width="1"/>
<path d="M1000.5 665.0V689.0"/><circle cx="1000.5" cy="677.0" r="3.2" stroke-width="1"/>
<path d="M1003.2 691.1V719.1"/><circle cx="1003.2" cy="705.1" r="3.2" stroke-width="1"/>
<path d="M1008.6 660.5V680.5"/><circle cx="1008.6" cy="670.5" r="3.2" stroke-width="1"/>
<path d="M1009.5 702.2V732.2"/><circle cx="1009.5" cy="717.2" r="3.2" stroke-width="1"/>
<path d="M1007.4 713.9V749.9"/><circle cx="1007.4" cy="731.9" r="3.2" stroke-width="1"/>
<path d="M1004.3 722.3V762.3"/><circle cx="1004.3" cy="742.3" r="3.2" stroke-width="1"/>
<path d="M1004.3 729.2V773.2"/><circle cx="1004.3" cy="751.2" r="3.2" stroke-width="1"/>
<path d="M1005.3 731.5V781.5"/><circle cx="1005.3" cy="756.5" r="3.2" stroke-width="1"/>
<path d="M1006.5 759.4V827.4"/><circle cx="1006.5" cy="793.4" r="3.2" stroke-width="1"/>
<path d="M1013.7 726.0V770.6"/><circle cx="1013.7" cy="748.3" r="3.2" stroke-width="1"/>
<path d="M1016.0 673.4V697.4"/><circle cx="1016.0" cy="685.4" r="3.2" stroke-width="1"/>
<path d="M1017.5 684.6V710.6"/><circle cx="1017.5" cy="697.6" r="3.2" stroke-width="1"/>
<path d="M1012.0 680.0V704.0"/><circle cx="1012.0" cy="692.0" r="3.2" stroke-width="1"/>
<path d="M1006.0 679.0V701.0"/><circle cx="1006.0" cy="690.0" r="3.2" stroke-width="1"/>
<path d="M996.0 678.0V702.0"/><circle cx="996.0" cy="690.0" r="3.2" stroke-width="1"/>
<path d="M998.5 688.0V714.0"/><circle cx="998.5" cy="701.0" r="3.2" stroke-width="1"/>
<path d="M1002.0 685.0V709.0"/><circle cx="1002.0" cy="697.0" r="3.2" stroke-width="1"/>
<path d="M999.5 694.0V722.0"/><circle cx="999.5" cy="708.0" r="3.2" stroke-width="1"/>
<path d="M1004.5 696.0V726.0"/><circle cx="1004.5" cy="711.0" r="3.2" stroke-width="1"/>
<path d="M1001.5 677.0V699.0"/><circle cx="1001.5" cy="688.0" r="3.2" stroke-width="1"/>
<path d="M1010.5 690.0V716.0"/><circle cx="1010.5" cy="703.0" r="3.2" stroke-width="1"/>
</g>
<path d="M620.6 695.4 L621.3 695.4 L622.1 695.4 L622.8 695.4 L623.6 695.4 L624.3 695.4 L625.1 695.4 L625.8 695.4 L626.6 695.4 L627.3 695.4 L628.1 695.4 L628.8 695.4 L629.6 695.4 L630.3 695.3 L631.1 695.3 L631.8 695.3 L632.6 695.3 L633.3 695.3 L634.1 695.3 L634.8 695.3 L635.5 695.3 L636.3 695.3 L637.0 695.3 L637.8 695.3 L638.5 695.2 L639.3 695.2 L640.0 695.2 L640.8 695.2 L641.5 695.2 L642.3 695.2 L643.0 695.2 L643.8 695.2 L644.5 695.2 L645.3 695.1 L646.0 695.1 L646.8 695.1 L647.5 695.1 L648.3 695.1 L649.0 695.1 L649.8 695.1 L650.5 695.0 L651.2 695.0 L652.0 695.0 L652.7 695.0 L653.5 695.0 L654.2 695.0 L655.0 695.0 L655.7 694.9 L656.5 694.9 L657.2 694.9 L658.0 694.9 L658.7 694.9 L659.5 694.9 L660.2 694.8 L661.0 694.8 L661.7 694.8 L662.5 694.8 L663.2 694.8 L664.0 694.7 L664.7 694.7 L665.4 694.7 L666.2 694.7 L666.9 694.7 L667.7 694.6 L668.4 694.6 L669.2 694.6 L669.9 694.6 L670.7 694.6 L671.4 694.5 L672.2 694.5 L672.9 694.5 L673.7 694.5 L674.4 694.4 L675.2 694.4 L675.9 694.4 L676.7 694.4 L677.4 694.3 L678.2 694.3 L678.9 694.3 L679.7 694.2 L680.4 694.2 L681.1 694.2 L681.9 694.1 L682.6 694.1 L683.4 694.1 L684.1 694.0 L684.9 694.0 L685.6 694.0 L686.4 693.9 L687.1 693.9 L687.9 693.9 L688.6 693.8 L689.4 693.8 L690.1 693.7 L690.9 693.7 L691.6 693.7 L692.4 693.6 L693.1 693.6 L693.9 693.5 L694.6 693.5 L695.4 693.4 L696.1 693.4 L696.8 693.3 L697.6 693.3 L698.3 693.2 L699.1 693.2 L699.8 693.1 L700.6 693.1 L701.3 693.0 L702.1 693.0 L702.8 692.9 L703.6 692.9 L704.3 692.8 L705.1 692.7 L705.8 692.7 L706.6 692.6 L707.3 692.5 L708.1 692.5 L708.8 692.4 L709.6 692.3 L710.3 692.2 L711.0 692.2 L711.8 692.1 L712.5 692.0 L713.3 691.9 L714.0 691.9 L714.8 691.8 L715.5 691.7 L716.3 691.6 L717.0 691.5 L717.8 691.4 L718.5 691.3 L719.3 691.2 L720.0 691.1 L720.8 691.0 L721.5 690.9 L722.3 690.8 L723.0 690.7 L723.8 690.6 L724.5 690.4 L725.2 690.3 L726.0 690.2 L726.7 690.1 L727.5 689.9 L728.2 689.8 L729.0 689.7 L729.7 689.5 L730.5 689.4 L731.2 689.2 L732.0 689.1 L732.7 688.9 L733.5 688.8 L734.2 688.6 L735.0 688.4 L735.7 688.3 L736.5 688.1 L737.2 687.9 L738.0 687.7 L738.7 687.5 L739.5 687.3 L740.2 687.1 L740.9 686.9 L741.7 686.7 L742.4 686.5 L743.2 686.2 L743.9 686.0 L744.7 685.8 L745.4 685.5 L746.2 685.2 L746.9 685.0 L747.7 684.7 L748.4 684.4 L749.2 684.1 L749.9 683.9 L750.7 683.6 L751.4 683.2 L752.2 682.9 L752.9 682.6 L753.7 682.2 L754.4 681.9 L755.1 681.5 L755.9 681.2 L756.6 680.8 L757.4 680.4 L758.1 680.0 L758.9 679.6 L759.6 679.1 L760.4 678.7 L761.1 678.2 L761.9 677.8 L762.6 677.3 L763.4 676.8 L764.1 676.3 L764.9 675.7 L765.6 675.2 L766.4 674.6 L767.1 674.0 L767.9 673.4 L768.6 672.8 L769.4 672.2 L770.1 671.5 L770.8 670.8 L771.6 670.1 L772.3 669.4 L773.1 668.7 L773.8 667.9 L774.6 667.1 L775.3 666.3 L776.1 665.4 L776.8 664.6 L777.6 663.7 L778.3 662.7 L779.1 661.8 L779.8 660.8 L780.6 659.8 L781.3 658.7 L782.1 657.6 L782.8 656.5 L783.6 655.3 L784.3 654.1 L785.0 652.9 L785.8 651.6 L786.5 650.2 L787.3 648.9 L788.0 647.5 L788.8 646.0 L789.5 644.5 L790.3 642.9 L791.0 641.3 L791.8 639.7 L792.5 638.0 L793.3 636.2 L794.0 634.4 L794.8 632.5 L795.5 630.6 L796.3 628.6 L797.0 626.5 L797.8 624.4 L798.5 622.2 L799.3 620.0 L800.0 617.7 L800.7 615.4 L801.5 613.0 L802.2 610.5 L803.0 608.0 L803.7 605.4 L804.5 602.8 L805.2 600.1 L806.0 597.4 L806.7 594.7 L807.5 591.9 L808.2 589.1 L809.0 586.3 L809.7 583.6 L810.5 580.8 L811.2 578.1 L812.0 575.5 L812.7 572.9 L813.5 570.4 L814.2 568.0 L815.0 565.8 L815.7 563.8 L816.4 561.9 L817.2 560.2 L817.9 558.8 L818.7 557.7 L819.4 556.8 L820.2 556.2 L820.9 555.9 L821.7 555.9 L822.4 556.2 L823.2 556.8 L823.9 557.7 L824.7 558.8 L825.4 560.2 L826.2 561.9 L826.9 563.8 L827.7 565.8 L828.4 568.0 L829.2 570.4 L829.9 572.9 L830.6 575.5 L831.4 578.1 L832.1 580.8 L832.9 583.6 L833.6 586.3 L834.4 589.1 L835.1 591.9 L835.9 594.7 L836.6 597.4 L837.4 600.1 L838.1 602.8 L838.9 605.4 L839.6 608.0 L840.4 610.5 L841.1 613.0 L841.9 615.4 L842.6 617.7 L843.4 620.0 L844.1 622.2 L844.9 624.4 L845.6 626.5 L846.3 628.6 L847.1 630.6 L847.8 632.5 L848.6 634.4 L849.3 636.2 L850.1 638.0 L850.8 639.7 L851.6 641.3 L852.3 642.9 L853.1 644.5 L853.8 646.0 L854.6 647.5 L855.3 648.9 L856.1 650.2 L856.8 651.6 L857.6 652.9 L858.3 654.1 L859.1 655.3 L859.8 656.5 L860.5 657.6 L861.3 658.7 L862.0 659.8 L862.8 660.8 L863.5 661.8 L864.3 662.7 L865.0 663.7 L865.8 664.6 L866.5 665.4 L867.3 666.3 L868.0 667.1 L868.8 667.9 L869.5 668.7 L870.3 669.4 L871.0 670.1 L871.8 670.8 L872.5 671.5 L873.3 672.2 L874.0 672.8 L874.8 673.4 L875.5 674.0 L876.2 674.6 L877.0 675.2 L877.7 675.7 L878.5 676.3 L879.2 676.8 L880.0 677.3 L880.7 677.8 L881.5 678.2 L882.2 678.7 L883.0 679.1 L883.7 679.6 L884.5 680.0 L885.2 680.4 L886.0 680.8 L886.7 681.2 L887.5 681.5 L888.2 681.9 L889.0 682.2 L889.7 682.6 L890.4 682.9 L891.2 683.2 L891.9 683.6 L892.7 683.9 L893.4 684.1 L894.2 684.4 L894.9 684.7 L895.7 685.0 L896.4 685.2 L897.2 685.5 L897.9 685.8 L898.7 686.0 L899.4 686.2 L900.2 686.5 L900.9 686.7 L901.7 686.9 L902.4 687.1 L903.2 687.3 L903.9 687.5 L904.6 687.7 L905.4 687.9 L906.1 688.1 L906.9 688.3 L907.6 688.4 L908.4 688.6 L909.1 688.8 L909.9 688.9 L910.6 689.1 L911.4 689.2 L912.1 689.4 L912.9 689.5 L913.6 689.7 L914.4 689.8 L915.1 689.9 L915.9 690.1 L916.6 690.2 L917.4 690.3 L918.1 690.4 L918.9 690.6 L919.6 690.7 L920.3 690.8 L921.1 690.9 L921.8 691.0 L922.6 691.1 L923.3 691.2 L924.1 691.3 L924.8 691.4 L925.6 691.5 L926.3 691.6 L927.1 691.7 L927.8 691.8 L928.6 691.9 L929.3 691.9 L930.1 692.0 L930.8 692.1 L931.6 692.2 L932.3 692.2 L933.1 692.3 L933.8 692.4 L934.5 692.5 L935.3 692.5 L936.0 692.6 L936.8 692.7 L937.5 692.7 L938.3 692.8 L939.0 692.9 L939.8 692.9 L940.5 693.0 L941.3 693.0 L942.0 693.1 L942.8 693.1 L943.5 693.2 L944.3 693.2 L945.0 693.3 L945.8 693.3 L946.5 693.4 L947.3 693.4 L948.0 693.5 L948.8 693.5 L949.5 693.6 L950.2 693.6 L951.0 693.7 L951.7 693.7 L952.5 693.7 L953.2 693.8 L954.0 693.8 L954.7 693.9 L955.5 693.9 L956.2 693.9 L957.0 694.0 L957.7 694.0 L958.5 694.0 L959.2 694.1 L960.0 694.1 L960.7 694.1 L961.5 694.2 L962.2 694.2 L963.0 694.2 L963.7 694.3 L964.5 694.3 L965.2 694.3 L965.9 694.4 L966.7 694.4 L967.4 694.4 L968.2 694.4 L968.9 694.5 L969.7 694.5 L970.4 694.5 L971.2 694.5 L971.9 694.6 L972.7 694.6 L973.4 694.6 L974.2 694.6 L974.9 694.6 L975.7 694.7 L976.4 694.7 L977.2 694.7 L977.9 694.7 L978.7 694.7 L979.4 694.8 L980.1 694.8 L980.9 694.8 L981.6 694.8 L982.4 694.8 L983.1 694.9 L983.9 694.9 L984.6 694.9 L985.4 694.9 L986.1 694.9 L986.9 694.9 L987.6 695.0 L988.4 695.0 L989.1 695.0 L989.9 695.0 L990.6 695.0 L991.4 695.0 L992.1 695.0 L992.9 695.1 L993.6 695.1 L994.4 695.1 L995.1 695.1 L995.8 695.1 L996.6 695.1 L997.3 695.1 L998.1 695.2 L998.8 695.2 L999.6 695.2 L1000.3 695.2 L1001.1 695.2 L1001.8 695.2 L1002.6 695.2 L1003.3 695.2 L1004.1 695.2 L1004.8 695.3 L1005.6 695.3 L1006.3 695.3 L1007.1 695.3 L1007.8 695.3 L1008.6 695.3 L1009.3 695.3 L1010.0 695.3 L1010.8 695.3 L1011.5 695.3 L1012.3 695.3 L1013.0 695.4 L1013.8 695.4 L1014.5 695.4 L1015.3 695.4 L1016.0 695.4 L1016.8 695.4 L1017.5 695.4 L1018.3 695.4 L1019.0 695.4 L1019.8 695.4 L1020.5 695.4 L1021.3 695.4 L1022.0 695.4 L1022.8 695.5 L1023.5 695.5" fill="none" stroke="#bf00bf" stroke-width="1.8"/>
<polygon points="620.6,832.8 621.3,832.8 622.1,832.8 622.8,832.8 623.6,832.8 624.3,832.7 625.1,832.7 625.8,832.7 626.6,832.7 627.3,832.7 628.1,832.7 628.8,832.7 629.6,832.7 630.3,832.7 631.1,832.7 631.8,832.7 632.6,832.7 633.3,832.7 634.1,832.7 634.8,832.7 635.5,832.7 636.3,832.7 637.0,832.7 637.8,832.7 638.5,832.7 639.3,832.7 640.0,832.7 640.8,832.7 641.5,832.7 642.3,832.7 643.0,832.7 643.8,832.7 644.5,832.7 645.3,832.7 646.0,832.7 646.8,832.7 647.5,832.7 648.3,832.7 649.0,832.7 649.8,832.7 650.5,832.7 651.2,832.7 652.0,832.7 652.7,832.7 653.5,832.7 654.2,832.7 655.0,832.7 655.7,832.7 656.5,832.7 657.2,832.7 658.0,832.6 658.7,832.6 659.5,832.6 660.2,832.6 661.0,832.6 661.7,832.6 662.5,832.6 663.2,832.6 664.0,832.6 664.7,832.6 665.4,832.6 666.2,832.6 666.9,832.6 667.7,832.6 668.4,832.6 669.2,832.6 669.9,832.6 670.7,832.6 671.4,832.6 672.2,832.6 672.9,832.6 673.7,832.6 674.4,832.6 675.2,832.6 675.9,832.6 676.7,832.6 677.4,832.6 678.2,832.6 678.9,832.6 679.7,832.6 680.4,832.6 681.1,832.6 681.9,832.6 682.6,832.6 683.4,832.6 684.1,832.6 684.9,832.6 685.6,832.6 686.4,832.6 687.1,832.6 687.9,832.6 688.6,832.6 689.4,832.6 690.1,832.6 690.9,832.5 691.6,832.5 692.4,832.5 693.1,832.5 693.9,832.5 694.6,832.5 695.4,832.5 696.1,832.5 696.8,832.5 697.6,832.5 698.3,832.5 699.1,832.5 699.8,832.5 700.6,832.5 701.3,832.5 702.1,832.5 702.8,832.4 703.6,832.4 704.3,832.4 705.1,832.4 705.8,832.4 706.6,832.3 707.3,832.3 708.1,832.3 708.8,832.3 709.6,832.3 710.3,832.3 711.0,832.2 711.8,832.2 712.5,832.2 713.3,832.2 714.0,832.2 714.8,832.1 715.5,832.1 716.3,832.1 717.0,832.1 717.8,832.1 718.5,832.0 719.3,832.0 720.0,832.0 720.8,832.0 721.5,832.0 722.3,832.0 723.0,831.9 723.8,831.9 724.5,831.9 725.2,831.9 726.0,831.9 726.7,831.9 727.5,831.9 728.2,831.8 729.0,831.8 729.7,831.8 730.5,831.8 731.2,831.8 732.0,831.8 732.7,831.8 733.5,831.7 734.2,831.7 735.0,831.7 735.7,831.7 736.5,831.7 737.2,831.7 738.0,831.7 738.7,831.6 739.5,831.6 740.2,831.6 740.9,831.6 741.7,831.5 742.4,831.5 743.2,831.5 743.9,831.4 744.7,831.4 745.4,831.4 746.2,831.3 746.9,831.3 747.7,831.3 748.4,831.2 749.2,831.2 749.9,831.2 750.7,831.1 751.4,831.1 752.2,831.0 752.9,831.0 753.7,831.0 754.4,830.9 755.1,830.9 755.9,830.9 756.6,830.8 757.4,830.8 758.1,830.7 758.9,830.6 759.6,830.5 760.4,830.4 761.1,830.3 761.9,830.2 762.6,830.2 763.4,830.1 764.1,830.0 764.9,829.8 765.6,830.0 766.4,829.8 767.1,829.4 767.9,829.4 768.6,829.3 769.4,829.2 770.1,829.1 770.8,828.9 771.6,828.7 772.3,828.8 773.1,828.4 773.8,828.3 774.6,828.2 775.3,828.2 776.1,828.0 776.8,827.7 777.6,828.0 778.3,827.3 779.1,827.4 779.8,827.4 780.6,827.4 781.3,827.1 782.1,826.9 782.8,826.4 783.6,826.3 784.3,825.9 785.0,825.5 785.8,825.4 786.5,825.0 787.3,825.2 788.0,824.4 788.8,824.9 789.5,824.3 790.3,824.1 791.0,823.0 791.8,822.9 792.5,822.4 793.3,822.0 794.0,822.6 794.8,823.0 795.5,822.8 796.3,823.5 797.0,823.2 797.8,824.1 798.5,823.7 799.3,822.9 800.0,823.3 800.7,822.9 801.5,822.9 802.2,822.2 803.0,822.7 803.7,822.8 804.5,822.0 805.2,822.8 806.0,823.2 806.7,823.9 807.5,823.5 808.2,824.0 809.0,824.3 809.7,824.7 810.5,825.7 811.2,825.5 812.0,826.2 812.7,826.3 813.5,826.9 814.2,827.1 815.0,827.3 815.7,827.1 816.4,827.4 817.2,827.7 817.9,827.5 818.7,828.0 819.4,827.8 820.2,828.1 820.9,827.9 821.7,827.9 822.4,828.3 823.2,828.1 823.9,828.6 824.7,828.5 825.4,828.5 826.2,828.9 826.9,828.7 827.7,828.8 828.4,828.9 829.2,828.0 829.9,827.7 830.6,828.4 831.4,829.2 832.1,830.1 832.9,830.7 833.6,830.9 834.4,830.9 835.1,831.0 835.9,831.1 836.6,831.1 837.4,831.2 838.1,831.3 838.9,831.3 839.6,831.4 840.4,831.4 841.1,831.5 841.9,831.5 842.6,831.5 843.4,831.6 844.1,831.6 844.9,831.6 845.6,831.6 846.3,831.7 847.1,831.7 847.8,831.7 848.6,831.8 849.3,831.8 850.1,831.8 850.8,831.8 851.6,831.8 852.3,831.8 853.1,831.8 853.8,831.9 854.6,831.9 855.3,831.9 856.1,831.9 856.8,831.9 857.6,831.9 858.3,831.9 859.1,831.9 859.8,831.9 860.5,831.9 861.3,831.9 862.0,831.9 862.8,831.9 863.5,831.9 864.3,831.9 865.0,831.9 865.8,831.9 866.5,832.0 867.3,832.0 868.0,832.0 868.8,832.0 869.5,832.0 870.3,832.0 871.0,832.0 871.8,832.0 872.5,832.0 873.3,832.0 874.0,832.0 874.8,832.0 875.5,832.0 876.2,832.0 877.0,832.0 877.7,832.0 878.5,832.0 879.2,832.1 880.0,832.1 880.7,832.1 881.5,832.1 882.2,832.1 883.0,832.1 883.7,832.1 884.5,832.1 885.2,832.1 886.0,832.1 886.7,832.1 887.5,832.1 888.2,832.1 889.0,832.1 889.7,832.1 890.4,832.1 891.2,832.2 891.9,832.2 892.7,832.2 893.4,832.2 894.2,832.2 894.9,832.2 895.7,832.2 896.4,832.2 897.2,832.2 897.9,832.2 898.7,832.2 899.4,832.2 900.2,832.2 900.9,832.2 901.7,832.2 902.4,832.2 903.2,832.2 903.9,832.2 904.6,832.2 905.4,832.2 906.1,832.2 906.9,832.2 907.6,832.2 908.4,832.2 909.1,832.2 909.9,832.2 910.6,832.2 911.4,832.2 912.1,832.2 912.9,832.2 913.6,832.2 914.4,832.2 915.1,832.2 915.9,832.2 916.6,832.2 917.4,832.2 918.1,832.2 918.9,832.3 919.6,832.3 920.3,832.3 921.1,832.3 921.8,832.3 922.6,832.3 923.3,832.3 924.1,832.3 924.8,832.3 925.6,832.3 926.3,832.3 927.1,832.3 927.8,832.3 928.6,832.3 929.3,832.3 930.1,832.3 930.8,832.3 931.6,832.3 932.3,832.3 933.1,832.3 933.8,832.3 934.5,832.3 935.3,832.3 936.0,832.3 936.8,832.3 937.5,832.3 938.3,832.3 939.0,832.3 939.8,832.3 940.5,832.3 941.3,832.3 942.0,832.3 942.8,832.3 943.5,832.3 944.3,832.3 945.0,832.3 945.8,832.3 946.5,832.3 947.3,832.3 948.0,832.3 948.8,832.3 949.5,832.3 950.2,832.3 951.0,832.3 951.7,832.3 952.5,832.3 953.2,832.3 954.0,832.3 954.7,832.3 955.5,832.3 956.2,832.3 957.0,832.3 957.7,832.3 958.5,832.3 959.2,832.3 960.0,832.3 960.7,832.3 961.5,832.3 962.2,832.3 963.0,832.3 963.7,832.3 964.5,832.3 965.2,832.3 965.9,832.3 966.7,832.3 967.4,832.3 968.2,832.3 968.9,832.3 969.7,832.3 970.4,832.3 971.2,832.3 971.9,832.3 972.7,832.3 973.4,832.3 974.2,832.3 974.9,832.3 975.7,832.3 976.4,832.3 977.2,832.3 977.9,832.3 978.7,832.3 979.4,832.3 980.1,832.3 980.9,832.3 981.6,832.3 982.4,832.3 983.1,832.3 983.9,832.4 984.6,832.4 985.4,832.4 986.1,832.4 986.9,832.4 987.6,832.4 988.4,832.4 989.1,832.4 989.9,832.4 990.6,832.4 991.4,832.4 992.1,832.4 992.9,832.4 993.6,832.4 994.4,832.4 995.1,832.4 995.8,832.4 996.6,832.4 997.3,832.4 998.1,832.4 998.8,832.4 999.6,832.4 1000.3,832.4 1001.1,832.4 1001.8,832.4 1002.6,832.4 1003.3,832.4 1004.1,832.4 1004.8,832.4 1005.6,832.4 1006.3,832.4 1007.1,832.4 1007.8,832.4 1008.6,832.4 1009.3,832.4 1010.0,832.4 1010.8,832.4 1011.5,832.4 1012.3,832.4 1013.0,832.4 1013.8,832.4 1014.5,832.4 1015.3,832.4 1016.0,832.4 1016.8,832.4 1017.5,832.4 1018.3,832.4 1019.0,832.4 1019.8,832.4 1020.5,832.4 1021.3,832.4 1022.0,832.4 1022.8,832.4 1023.5,832.4 1023.5,834.0 1022.8,834.0 1022.0,834.0 1021.3,834.0 1020.5,834.0 1019.8,834.0 1019.0,834.0 1018.3,834.0 1017.5,834.0 1016.8,834.0 1016.0,834.0 1015.3,834.0 1014.5,834.0 1013.8,834.0 1013.0,834.0 1012.3,834.0 1011.5,834.1 1010.8,834.1 1010.0,834.1 1009.3,834.1 1008.6,834.1 1007.8,834.1 1007.1,834.1 1006.3,834.1 1005.6,834.1 1004.8,834.1 1004.1,834.1 1003.3,834.1 1002.6,834.1 1001.8,834.1 1001.1,834.1 1000.3,834.1 999.6,834.1 998.8,834.1 998.1,834.1 997.3,834.1 996.6,834.1 995.8,834.1 995.1,834.1 994.4,834.1 993.6,834.1 992.9,834.1 992.1,834.1 991.4,834.1 990.6,834.1 989.9,834.1 989.1,834.1 988.4,834.1 987.6,834.1 986.9,834.1 986.1,834.1 985.4,834.1 984.6,834.1 983.9,834.1 983.1,834.1 982.4,834.1 981.6,834.1 980.9,834.1 980.1,834.1 979.4,834.1 978.7,834.1 977.9,834.1 977.2,834.1 976.4,834.1 975.7,834.1 974.9,834.1 974.2,834.1 973.4,834.1 972.7,834.1 971.9,834.1 971.2,834.1 970.4,834.1 969.7,834.1 968.9,834.1 968.2,834.1 967.4,834.1 966.7,834.1 965.9,834.1 965.2,834.1 964.5,834.1 963.7,834.1 963.0,834.1 962.2,834.1 961.5,834.1 960.7,834.1 960.0,834.1 959.2,834.1 958.5,834.1 957.7,834.1 957.0,834.1 956.2,834.1 955.5,834.1 954.7,834.1 954.0,834.1 953.2,834.1 952.5,834.1 951.7,834.1 951.0,834.1 950.2,834.1 949.5,834.1 948.8,834.1 948.0,834.1 947.3,834.1 946.5,834.2 945.8,834.2 945.0,834.2 944.3,834.2 943.5,834.2 942.8,834.2 942.0,834.2 941.3,834.2 940.5,834.2 939.8,834.2 939.0,834.2 938.3,834.2 937.5,834.2 936.8,834.2 936.0,834.2 935.3,834.2 934.5,834.2 933.8,834.2 933.1,834.2 932.3,834.2 931.6,834.2 930.8,834.2 930.1,834.2 929.3,834.2 928.6,834.2 927.8,834.2 927.1,834.2 926.3,834.2 925.6,834.2 924.8,834.2 924.1,834.2 923.3,834.2 922.6,834.2 921.8,834.2 921.1,834.2 920.3,834.2 919.6,834.2 918.9,834.2 918.1,834.2 917.4,834.2 916.6,834.2 915.9,834.2 915.1,834.2 914.4,834.2 913.6,834.2 912.9,834.2 912.1,834.2 911.4,834.2 910.6,834.2 909.9,834.2 909.1,834.2 908.4,834.2 907.6,834.2 906.9,834.2 906.1,834.2 905.4,834.2 904.6,834.2 903.9,834.2 903.2,834.2 902.4,834.2 901.7,834.2 900.9,834.2 900.2,834.2 899.4,834.2 898.7,834.2 897.9,834.3 897.2,834.3 896.4,834.3 895.7,834.3 894.9,834.3 894.2,834.3 893.4,834.4 892.7,834.4 891.9,834.4 891.2,834.4 890.4,834.4 889.7,834.4 889.0,834.4 888.2,834.5 887.5,834.5 886.7,834.5 886.0,834.5 885.2,834.5 884.5,834.5 883.7,834.5 883.0,834.6 882.2,834.6 881.5,834.6 880.7,834.6 880.0,834.6 879.2,834.6 878.5,834.7 877.7,834.7 877.0,834.7 876.2,834.7 875.5,834.7 874.8,834.7 874.0,834.7 873.3,834.8 872.5,834.8 871.8,834.8 871.0,834.8 870.3,834.8 869.5,834.8 868.8,834.8 868.0,834.9 867.3,834.9 866.5,834.9 865.8,834.9 865.0,834.9 864.3,834.9 863.5,835.0 862.8,835.0 862.0,835.0 861.3,835.0 860.5,835.0 859.8,835.0 859.1,835.0 858.3,835.1 857.6,835.1 856.8,835.1 856.1,835.1 855.3,835.1 854.6,835.1 853.8,835.1 853.1,835.2 852.3,835.2 851.6,835.2 850.8,835.2 850.1,835.2 849.3,835.4 848.6,835.6 847.8,835.8 847.1,836.2 846.3,836.1 845.6,836.6 844.9,836.6 844.1,837.0 843.4,836.9 842.6,837.2 841.9,837.5 841.1,837.6 840.4,837.9 839.6,838.2 838.9,838.5 838.1,838.7 837.4,838.5 836.6,839.2 835.9,839.4 835.1,839.0 834.4,839.5 833.6,839.5 832.9,839.6 832.1,839.0 831.4,839.1 830.6,839.4 829.9,839.5 829.2,839.3 828.4,839.4 827.7,839.4 826.9,839.6 826.2,839.3 825.4,839.9 824.7,839.4 823.9,839.5 823.2,839.8 822.4,840.1 821.7,839.9 820.9,840.6 820.2,841.0 819.4,841.2 818.7,842.0 817.9,842.3 817.2,842.9 816.4,844.2 815.7,843.9 815.0,845.0 814.2,846.0 813.5,846.0 812.7,846.4 812.0,847.0 811.2,848.2 810.5,847.0 809.7,848.6 809.0,848.3 808.2,848.8 807.5,848.4 806.7,849.7 806.0,849.9 805.2,848.9 804.5,850.1 803.7,849.7 803.0,850.2 802.2,849.5 801.5,849.4 800.7,849.0 800.0,848.5 799.3,847.9 798.5,848.7 797.8,848.2 797.0,846.7 796.3,846.8 795.5,845.9 794.8,845.7 794.0,846.8 793.3,846.4 792.5,845.0 791.8,844.3 791.0,843.9 790.3,844.5 789.5,843.4 788.8,843.9 788.0,843.9 787.3,842.5 786.5,842.8 785.8,842.1 785.0,842.2 784.3,842.3 783.6,841.2 782.8,841.7 782.1,841.3 781.3,840.9 780.6,840.4 779.8,840.0 779.1,839.7 778.3,839.6 777.6,839.2 776.8,839.0 776.1,839.4 775.3,839.1 774.6,839.0 773.8,838.7 773.1,838.3 772.3,837.8 771.6,838.0 770.8,837.5 770.1,837.7 769.4,837.6 768.6,837.0 767.9,837.0 767.1,836.9 766.4,836.6 765.6,836.8 764.9,836.3 764.1,836.4 763.4,836.3 762.6,836.0 761.9,836.0 761.1,835.9 760.4,835.8 759.6,835.7 758.9,835.5 758.1,835.4 757.4,835.3 756.6,835.2 755.9,835.2 755.1,835.1 754.4,835.1 753.7,835.1 752.9,835.0 752.2,835.0 751.4,835.0 750.7,834.9 749.9,834.9 749.2,834.9 748.4,834.8 747.7,834.8 746.9,834.7 746.2,834.7 745.4,834.7 744.7,834.6 743.9,834.6 743.2,834.6 742.4,834.5 741.7,834.5 740.9,834.5 740.2,834.4 739.5,834.4 738.7,834.4 738.0,834.4 737.2,834.4 736.5,834.4 735.7,834.3 735.0,834.3 734.2,834.3 733.5,834.3 732.7,834.3 732.0,834.3 731.2,834.3 730.5,834.2 729.7,834.2 729.0,834.2 728.2,834.2 727.5,834.2 726.7,834.2 726.0,834.2 725.2,834.1 724.5,834.1 723.8,834.1 723.0,834.1 722.3,834.1 721.5,834.1 720.8,834.1 720.0,834.0 719.3,834.0 718.5,834.0 717.8,834.0 717.0,834.0 716.3,834.0 715.5,833.9 714.8,833.9 714.0,833.9 713.3,833.9 712.5,833.9 711.8,833.8 711.0,833.8 710.3,833.8 709.6,833.8 708.8,833.8 708.1,833.7 707.3,833.7 706.6,833.7 705.8,833.7 705.1,833.7 704.3,833.6 703.6,833.6 702.8,833.6 702.1,833.6 701.3,833.6 700.6,833.5 699.8,833.5 699.1,833.5 698.3,833.5 697.6,833.5 696.8,833.5 696.1,833.5 695.4,833.5 694.6,833.5 693.9,833.5 693.1,833.5 692.4,833.5 691.6,833.5 690.9,833.5 690.1,833.5 689.4,833.5 688.6,833.5 687.9,833.5 687.1,833.5 686.4,833.5 685.6,833.5 684.9,833.5 684.1,833.5 683.4,833.5 682.6,833.5 681.9,833.5 681.1,833.5 680.4,833.5 679.7,833.5 678.9,833.5 678.2,833.5 677.4,833.5 676.7,833.5 675.9,833.4 675.2,833.4 674.4,833.4 673.7,833.4 672.9,833.4 672.2,833.4 671.4,833.4 670.7,833.4 669.9,833.4 669.2,833.4 668.4,833.4 667.7,833.4 666.9,833.4 666.2,833.4 665.4,833.4 664.7,833.4 664.0,833.4 663.2,833.4 662.5,833.4 661.7,833.4 661.0,833.4 660.2,833.4 659.5,833.4 658.7,833.4 658.0,833.4 657.2,833.4 656.5,833.4 655.7,833.4 655.0,833.4 654.2,833.4 653.5,833.4 652.7,833.4 652.0,833.4 651.2,833.4 650.5,833.4 649.8,833.4 649.0,833.4 648.3,833.4 647.5,833.4 646.8,833.4 646.0,833.4 645.3,833.4 644.5,833.4 643.8,833.4 643.0,833.4 642.3,833.3 641.5,833.3 640.8,833.3 640.0,833.3 639.3,833.3 638.5,833.3 637.8,833.3 637.0,833.3 636.3,833.3 635.5,833.3 634.8,833.3 634.1,833.3 633.3,833.3 632.6,833.3 631.8,833.3 631.1,833.3 630.3,833.3 629.6,833.3 628.8,833.3 628.1,833.3 627.3,833.3 626.6,833.3 625.8,833.3 625.1,833.3 624.3,833.3 623.6,833.3 622.8,833.3 622.1,833.3 621.3,833.3 620.6,833.3" fill="#808080" stroke="#808080" stroke-width="2" stroke-linejoin="round"/>
<g stroke="#808080" stroke-width="2" fill="#808080">
<path d="M638.4 805.2V833.2"/><circle cx="638.4" cy="819.2" r="3.2" stroke-width="1"/>
<path d="M819.7 826.5V838.5"/><circle cx="819.7" cy="832.5" r="3.2" stroke-width="1"/>
<path d="M829.5 827.1V840.1"/><circle cx="829.5" cy="833.6" r="3.2" stroke-width="1"/>
<path d="M837.0 836.7V856.7"/><circle cx="837.0" cy="846.7" r="3.2" stroke-width="1"/>
<path d="M842.9 830.4V851.4"/><circle cx="842.9" cy="840.9" r="3.2" stroke-width="1"/>
<path d="M850.8 809.6V828.0"/><circle cx="850.8" cy="818.8" r="3.2" stroke-width="1"/>
<path d="M847.0 831.2V853.2"/><circle cx="847.0" cy="842.2" r="3.2" stroke-width="1"/>
<path d="M857.1 800.4V859.8"/><circle cx="857.1" cy="830.1" r="3.2" stroke-width="1"/>
<path d="M861.4 862.6V890.6"/><circle cx="861.4" cy="876.6" r="3.2" stroke-width="1"/>
<path d="M865.6 825.6V842.6"/><circle cx="865.6" cy="834.1" r="3.2" stroke-width="1"/>
<path d="M868.7 829.9V851.9"/><circle cx="868.7" cy="840.9" r="3.2" stroke-width="1"/>
<path d="M872.1 823.9V846.3"/><circle cx="872.1" cy="835.1" r="3.2" stroke-width="1"/>
<path d="M874.8 818.1V834.1"/><circle cx="874.8" cy="826.1" r="3.2" stroke-width="1"/>
<path d="M877.4 804.9V827.3"/><circle cx="877.4" cy="816.1" r="3.2" stroke-width="1"/>
<path d="M886.6 808.2V828.4"/><circle cx="886.6" cy="818.3" r="3.2" stroke-width="1"/>
<path d="M896.5 787.8V828.6"/><circle cx="896.5" cy="808.2" r="3.2" stroke-width="1"/>
<path d="M894.6 820.0V842.0"/><circle cx="894.6" cy="831.0" r="3.2" stroke-width="1"/>
<path d="M892.4 833.7V859.7"/><circle cx="892.4" cy="846.7" r="3.2" stroke-width="1"/>
<path d="M889.4 858.4V895.4"/><circle cx="889.4" cy="876.9" r="3.2" stroke-width="1"/>
<path d="M899.7 836.0V870.0"/><circle cx="899.7" cy="853.0" r="3.2" stroke-width="1"/>
<path d="M904.9 831.3V865.3"/><circle cx="904.9" cy="848.3" r="3.2" stroke-width="1"/>
<path d="M902.6 823.0V843.0"/><circle cx="902.6" cy="833.0" r="3.2" stroke-width="1"/>
<path d="M907.9 818.0V840.0"/><circle cx="907.9" cy="829.0" r="3.2" stroke-width="1"/>
<path d="M911.0 809.2V829.2"/><circle cx="911.0" cy="819.2" r="3.2" stroke-width="1"/>
<path d="M914.6 801.0V825.8"/><circle cx="914.6" cy="813.4" r="3.2" stroke-width="1"/>
<path d="M923.4 846.8V891.8"/><circle cx="923.4" cy="869.3" r="3.2" stroke-width="1"/>
<path d="M928.9 836.1V875.3"/><circle cx="928.9" cy="855.7" r="3.2" stroke-width="1"/>
<path d="M929.2 814.5V836.5"/><circle cx="929.2" cy="825.5" r="3.2" stroke-width="1"/>
<path d="M932.7 813.8V845.8"/><circle cx="932.7" cy="829.8" r="3.2" stroke-width="1"/>
<path d="M935.6 823.3V856.1"/><circle cx="935.6" cy="839.7" r="3.2" stroke-width="1"/>
<path d="M932.0 827.8V855.8"/><circle cx="932.0" cy="841.8" r="3.2" stroke-width="1"/>
<path d="M937.4 859.3V927.9"/><circle cx="937.4" cy="893.6" r="3.2" stroke-width="1"/>
<path d="M943.2 841.3V867.3"/><circle cx="943.2" cy="854.3" r="3.2" stroke-width="1"/>
<path d="M946.7 840.6V866.6"/><circle cx="946.7" cy="853.6" r="3.2" stroke-width="1"/>
<path d="M947.7 847.3V880.9"/><circle cx="947.7" cy="864.1" r="3.2" stroke-width="1"/>
<path d="M950.3 826.0V850.6"/><circle cx="950.3" cy="838.3" r="3.2" stroke-width="1"/>
<path d="M954.0 827.1V852.1"/><circle cx="954.0" cy="839.6" r="3.2" stroke-width="1"/>
<path d="M950.6 791.5V817.3"/><circle cx="950.6" cy="804.4" r="3.2" stroke-width="1"/>
<path d="M952.9 795.5V817.5"/><circle cx="952.9" cy="806.5" r="3.2" stroke-width="1"/>
<path d="M956.7 815.6V837.6"/><circle cx="956.7" cy="826.6" r="3.2" stroke-width="1"/>
<path d="M960.5 817.7V839.7"/><circle cx="960.5" cy="828.7" r="3.2" stroke-width="1"/>
<path d="M961.3 814.9V844.9"/><circle cx="961.3" cy="829.9" r="3.2" stroke-width="1"/>
<path d="M967.4 842.5V881.3"/><circle cx="967.4" cy="861.9" r="3.2" stroke-width="1"/>
<path d="M970.6 850.4V887.6"/><circle cx="970.6" cy="869.0" r="3.2" stroke-width="1"/>
<path d="M968.7 819.7V845.7"/><circle cx="968.7" cy="832.7" r="3.2" stroke-width="1"/>
<path d="M971.4 802.7V832.3"/><circle cx="971.4" cy="817.5" r="3.2" stroke-width="1"/>
<path d="M976.7 814.8V844.2"/><circle cx="976.7" cy="829.5" r="3.2" stroke-width="1"/>
<path d="M977.6 819.5V861.5"/><circle cx="977.6" cy="840.5" r="3.2" stroke-width="1"/>
<path d="M983.3 798.6V822.6"/><circle cx="983.3" cy="810.6" r="3.2" stroke-width="1"/>
<path d="M985.7 804.2V826.2"/><circle cx="985.7" cy="815.2" r="3.2" stroke-width="1"/>
<path d="M986.5 832.0V860.8"/><circle cx="986.5" cy="846.4" r="3.2" stroke-width="1"/>
<path d="M986.8 863.8V907.2"/><circle cx="986.8" cy="885.5" r="3.2" stroke-width="1"/>
<path d="M987.5 820.8V844.8"/><circle cx="987.5" cy="832.8" r="3.2" stroke-width="1"/>
<path d="M990.5 784.7V812.3"/><circle cx="990.5" cy="798.5" r="3.2" stroke-width="1"/>
<path d="M992.4 805.6V827.2"/><circle cx="992.4" cy="816.4" r="3.2" stroke-width="1"/>
<path d="M994.7 831.6V865.0"/><circle cx="994.7" cy="848.3" r="3.2" stroke-width="1"/>
<path d="M997.0 829.0V855.0"/><circle cx="997.0" cy="842.0" r="3.2" stroke-width="1"/>
<path d="M1000.3 834.9V868.1"/><circle cx="1000.3" cy="851.5" r="3.2" stroke-width="1"/>
<path d="M1001.0 795.0V821.6"/><circle cx="1001.0" cy="808.3" r="3.2" stroke-width="1"/>
<path d="M1000.5 802.8V826.8"/><circle cx="1000.5" cy="814.8" r="3.2" stroke-width="1"/>
<path d="M1003.2 828.9V856.9"/><circle cx="1003.2" cy="842.9" r="3.2" stroke-width="1"/>
<path d="M1008.6 798.2V818.2"/><circle cx="1008.6" cy="808.2" r="3.2" stroke-width="1"/>
<path d="M1009.5 839.9V869.9"/><circle cx="1009.5" cy="854.9" r="3.2" stroke-width="1"/>
<path d="M1007.4 851.6V887.6"/><circle cx="1007.4" cy="869.6" r="3.2" stroke-width="1"/>
<path d="M1004.3 860.1V900.1"/><circle cx="1004.3" cy="880.1" r="3.2" stroke-width="1"/>
<path d="M1004.3 867.0V911.0"/><circle cx="1004.3" cy="889.0" r="3.2" stroke-width="1"/>
<path d="M1005.3 869.3V919.3"/><circle cx="1005.3" cy="894.3" r="3.2" stroke-width="1"/>
<path d="M1006.5 897.1V965.1"/><circle cx="1006.5" cy="931.1" r="3.2" stroke-width="1"/>
<path d="M1013.7 863.7V908.3"/><circle cx="1013.7" cy="886.0" r="3.2" stroke-width="1"/>
<path d="M1016.0 811.0V835.0"/><circle cx="1016.0" cy="823.0" r="3.2" stroke-width="1"/>
<path d="M1017.5 822.2V848.2"/><circle cx="1017.5" cy="835.2" r="3.2" stroke-width="1"/>
<path d="M1012.0 817.7V841.7"/><circle cx="1012.0" cy="829.7" r="3.2" stroke-width="1"/>
<path d="M1006.0 816.8V838.8"/><circle cx="1006.0" cy="827.8" r="3.2" stroke-width="1"/>
<path d="M996.0 815.9V839.9"/><circle cx="996.0" cy="827.9" r="3.2" stroke-width="1"/>
<path d="M998.5 825.9V851.9"/><circle cx="998.5" cy="838.9" r="3.2" stroke-width="1"/>
<path d="M1002.0 822.8V846.8"/><circle cx="1002.0" cy="834.8" r="3.2" stroke-width="1"/>
<path d="M999.5 831.8V859.8"/><circle cx="999.5" cy="845.8" r="3.2" stroke-width="1"/>
<path d="M1004.5 833.8V863.8"/><circle cx="1004.5" cy="848.8" r="3.2" stroke-width="1"/>
<path d="M1001.5 814.8V836.8"/><circle cx="1001.5" cy="825.8" r="3.2" stroke-width="1"/>
<path d="M1010.5 827.7V853.7"/><circle cx="1010.5" cy="840.7" r="3.2" stroke-width="1"/>
</g>
<path d="M625 833.0H1018" fill="none" stroke="#bf00bf" stroke-width="1.8"/>
</g>
<path d="M680.4 966v-8.3M680.4 550v8.3M800.0 966v-8.3M800.0 550v8.3M919.6 966v-8.3M919.6 550v8.3M625 574.4h8.3M1018 574.4h-8.3M625 665.4h8.3M1018 665.4h-8.3M625 756.4h8.3M1018 756.4h-8.3M625 847.4h8.3M1018 847.4h-8.3M625 938.4h8.3M1018 938.4h-8.3" stroke="#000" stroke-width="1" fill="none" shape-rendering="crispEdges"/>
<rect x="625" y="550" width="393" height="416" fill="none" stroke="#000" stroke-width="2"/>
<text x="680.4" y="990.0" text-anchor="middle">2960</text>
<text x="800.0" y="990.0" text-anchor="middle">3040</text>
<text x="919.6" y="990.0" text-anchor="middle">3120</text>
<text x="617.6" y="582.0" text-anchor="end">18.5</text>
<text x="617.6" y="673.0" text-anchor="end">19.0</text>
<text x="617.6" y="764.0" text-anchor="end">19.5</text>
<text x="617.6" y="855.0" text-anchor="end">20.0</text>
<text x="617.6" y="946.0" text-anchor="end">20.5</text>
<text transform="translate(558,758) rotate(-90)" text-anchor="middle">I [mag]</text>
<text x="822" y="1016" text-anchor="middle">HJD-2450000 [days]</text>
</svg></body></html>
